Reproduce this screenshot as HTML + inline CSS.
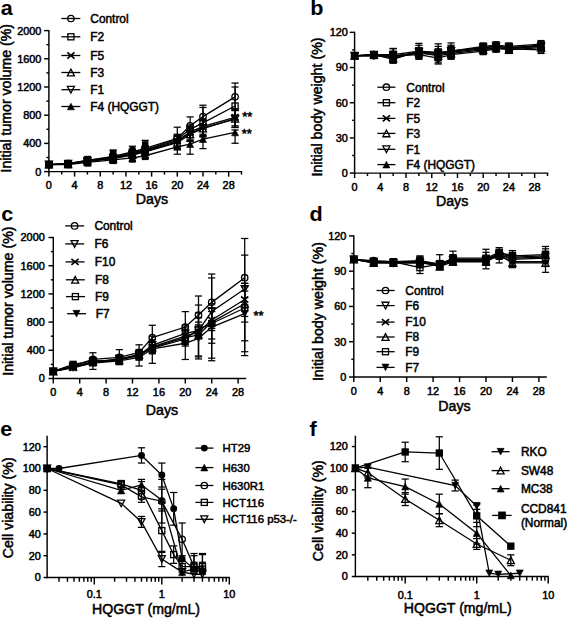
<!DOCTYPE html>
<html><head><meta charset="utf-8"><style>
html,body{margin:0;padding:0;background:#fff;}
body{width:567px;height:618px;overflow:hidden;}
svg{display:block;}
text{stroke:#000;stroke-width:0.5px;fill:#000;font-family:"Liberation Sans",sans-serif;font-weight:normal;}
text.l{stroke:none;font-weight:bold;}
</style></head><body>
<svg width="567" height="618" viewBox="0 0 567 618">
<rect width="567" height="618" fill="#fff"/>
<g stroke="#000" fill="#000">
<line x1="48.9" y1="30" x2="48.9" y2="172.3" stroke-width="1.45"/>
<line x1="48.2" y1="171.6" x2="242.1" y2="171.6" stroke-width="1.45"/>
<line x1="44.1" y1="171.6" x2="48.9" y2="171.6" stroke-width="1.45"/>
<text x="41.4" y="175.5" font-size="10.9" text-anchor="end">0</text>
<line x1="46.4" y1="157.5" x2="48.9" y2="157.5" stroke-width="1.45"/>
<line x1="44.1" y1="143.4" x2="48.9" y2="143.4" stroke-width="1.45"/>
<text x="41.4" y="147.3" font-size="10.9" text-anchor="end">400</text>
<line x1="46.4" y1="129.3" x2="48.9" y2="129.3" stroke-width="1.45"/>
<line x1="44.1" y1="115.2" x2="48.9" y2="115.2" stroke-width="1.45"/>
<text x="41.4" y="119.1" font-size="10.9" text-anchor="end">800</text>
<line x1="46.4" y1="101.1" x2="48.9" y2="101.1" stroke-width="1.45"/>
<line x1="44.1" y1="87" x2="48.9" y2="87" stroke-width="1.45"/>
<text x="41.4" y="90.9" font-size="10.9" text-anchor="end">1200</text>
<line x1="46.4" y1="72.9" x2="48.9" y2="72.9" stroke-width="1.45"/>
<line x1="44.1" y1="58.8" x2="48.9" y2="58.8" stroke-width="1.45"/>
<text x="41.4" y="62.7" font-size="10.9" text-anchor="end">1600</text>
<line x1="46.4" y1="44.7" x2="48.9" y2="44.7" stroke-width="1.45"/>
<line x1="44.1" y1="30.6" x2="48.9" y2="30.6" stroke-width="1.45"/>
<text x="41.4" y="34.5" font-size="10.9" text-anchor="end">2000</text>
<line x1="48.9" y1="171.6" x2="48.9" y2="176.6" stroke-width="1.45"/>
<text x="48.9" y="189.4" font-size="10.9" text-anchor="middle">0</text>
<line x1="61.74" y1="171.6" x2="61.74" y2="174.6" stroke-width="1.45"/>
<line x1="74.58" y1="171.6" x2="74.58" y2="176.6" stroke-width="1.45"/>
<text x="74.58" y="189.4" font-size="10.9" text-anchor="middle">4</text>
<line x1="87.42" y1="171.6" x2="87.42" y2="174.6" stroke-width="1.45"/>
<line x1="100.26" y1="171.6" x2="100.26" y2="176.6" stroke-width="1.45"/>
<text x="100.26" y="189.4" font-size="10.9" text-anchor="middle">8</text>
<line x1="113.1" y1="171.6" x2="113.1" y2="174.6" stroke-width="1.45"/>
<line x1="125.94" y1="171.6" x2="125.94" y2="176.6" stroke-width="1.45"/>
<text x="125.94" y="189.4" font-size="10.9" text-anchor="middle">12</text>
<line x1="138.78" y1="171.6" x2="138.78" y2="174.6" stroke-width="1.45"/>
<line x1="151.62" y1="171.6" x2="151.62" y2="176.6" stroke-width="1.45"/>
<text x="151.62" y="189.4" font-size="10.9" text-anchor="middle">16</text>
<line x1="164.46" y1="171.6" x2="164.46" y2="174.6" stroke-width="1.45"/>
<line x1="177.3" y1="171.6" x2="177.3" y2="176.6" stroke-width="1.45"/>
<text x="177.3" y="189.4" font-size="10.9" text-anchor="middle">20</text>
<line x1="190.14" y1="171.6" x2="190.14" y2="174.6" stroke-width="1.45"/>
<line x1="202.98" y1="171.6" x2="202.98" y2="176.6" stroke-width="1.45"/>
<text x="202.98" y="189.4" font-size="10.9" text-anchor="middle">24</text>
<line x1="215.82" y1="171.6" x2="215.82" y2="174.6" stroke-width="1.45"/>
<line x1="228.66" y1="171.6" x2="228.66" y2="176.6" stroke-width="1.45"/>
<text x="228.66" y="189.4" font-size="10.9" text-anchor="middle">28</text>
<line x1="241.5" y1="171.6" x2="241.5" y2="174.6" stroke-width="1.45"/>
<text x="152" y="203.9" font-size="14" text-anchor="middle" textLength="32.3" lengthAdjust="spacingAndGlyphs">Days</text>
<text transform="translate(10.6 98.2) rotate(-90)" x="0" y="0" font-size="14" text-anchor="middle" textLength="148.5" lengthAdjust="spacingAndGlyphs">Initial tumor volume (%)</text>
<text class="l" transform="translate(0.8 15.2) scale(1.1 1)" x="0" y="0" font-size="19.6">a</text>
<polyline points="48.9,164.55 68.16,164.55 87.42,162.44 113.1,159.97 132.36,157.85 145.2,155.74 177.3,146.93 190.14,144.1 202.98,139.17 235.08,132.47" fill="none" stroke-width="1.3"/>
<polyline points="48.9,164.55 68.16,163.84 87.42,161.03 113.1,158.2 132.36,154.33 145.2,151.16 177.3,141.99 190.14,133.53 202.98,127.89 235.08,119.08" fill="none" stroke-width="1.3"/>
<polyline points="48.9,164.55 68.16,164.2 87.42,161.38 113.1,158.56 132.36,155.03 145.2,151.86 177.3,142.69 190.14,134.24 202.98,128.59 235.08,118.72" fill="none" stroke-width="1.3"/>
<polyline points="48.9,164.55 68.16,163.84 87.42,161.03 113.1,157.85 132.36,153.97 145.2,150.45 177.3,140.58 190.14,132.12 202.98,126.48 235.08,117.31" fill="none" stroke-width="1.3"/>
<polyline points="48.9,164.55 68.16,163.84 87.42,160.32 113.1,157.15 132.36,152.56 145.2,149.75 177.3,139.17 190.14,129.3 202.98,122.95 235.08,106.03" fill="none" stroke-width="1.3"/>
<polyline points="48.9,164.55 68.16,163.49 87.42,160.32 113.1,156.44 132.36,151.86 145.2,148.34 177.3,138.47 190.14,125.78 202.98,116.61 235.08,96.87" fill="none" stroke-width="1.3"/>
<line x1="48.9" y1="163.49" x2="48.9" y2="165.61" stroke-width="1.25"/>
<line x1="45.3" y1="163.49" x2="52.5" y2="163.49" stroke-width="1.25"/>
<line x1="45.3" y1="165.61" x2="52.5" y2="165.61" stroke-width="1.25"/>
<line x1="68.16" y1="163.14" x2="68.16" y2="165.96" stroke-width="1.25"/>
<line x1="64.56" y1="163.14" x2="71.76" y2="163.14" stroke-width="1.25"/>
<line x1="64.56" y1="165.96" x2="71.76" y2="165.96" stroke-width="1.25"/>
<line x1="87.42" y1="160.67" x2="87.42" y2="164.2" stroke-width="1.25"/>
<line x1="83.82" y1="160.67" x2="91.02" y2="160.67" stroke-width="1.25"/>
<line x1="83.82" y1="164.2" x2="91.02" y2="164.2" stroke-width="1.25"/>
<line x1="113.1" y1="157.5" x2="113.1" y2="162.44" stroke-width="1.25"/>
<line x1="109.5" y1="157.5" x2="116.7" y2="157.5" stroke-width="1.25"/>
<line x1="109.5" y1="162.44" x2="116.7" y2="162.44" stroke-width="1.25"/>
<line x1="132.36" y1="153.97" x2="132.36" y2="161.66" stroke-width="1.25"/>
<line x1="128.76" y1="153.97" x2="135.96" y2="153.97" stroke-width="1.25"/>
<line x1="128.76" y1="161.66" x2="135.96" y2="161.66" stroke-width="1.25"/>
<line x1="145.2" y1="152.56" x2="145.2" y2="157.85" stroke-width="1.25"/>
<line x1="141.6" y1="152.56" x2="148.8" y2="152.56" stroke-width="1.25"/>
<line x1="141.6" y1="157.85" x2="148.8" y2="157.85" stroke-width="1.25"/>
<line x1="177.3" y1="141.99" x2="177.3" y2="154.19" stroke-width="1.25"/>
<line x1="173.7" y1="141.99" x2="180.9" y2="141.99" stroke-width="1.25"/>
<line x1="173.7" y1="154.19" x2="180.9" y2="154.19" stroke-width="1.25"/>
<line x1="190.14" y1="141.28" x2="190.14" y2="154.19" stroke-width="1.25"/>
<line x1="186.54" y1="141.28" x2="193.74" y2="141.28" stroke-width="1.25"/>
<line x1="186.54" y1="154.19" x2="193.74" y2="154.19" stroke-width="1.25"/>
<line x1="202.98" y1="137.06" x2="202.98" y2="148.62" stroke-width="1.25"/>
<line x1="199.38" y1="137.06" x2="206.58" y2="137.06" stroke-width="1.25"/>
<line x1="199.38" y1="148.62" x2="206.58" y2="148.62" stroke-width="1.25"/>
<line x1="235.08" y1="130" x2="235.08" y2="143.26" stroke-width="1.25"/>
<line x1="231.48" y1="130" x2="238.68" y2="130" stroke-width="1.25"/>
<line x1="231.48" y1="143.26" x2="238.68" y2="143.26" stroke-width="1.25"/>
<line x1="48.9" y1="163.49" x2="48.9" y2="165.61" stroke-width="1.25"/>
<line x1="45.3" y1="163.49" x2="52.5" y2="163.49" stroke-width="1.25"/>
<line x1="45.3" y1="165.61" x2="52.5" y2="165.61" stroke-width="1.25"/>
<line x1="68.16" y1="162.44" x2="68.16" y2="165.25" stroke-width="1.25"/>
<line x1="64.56" y1="162.44" x2="71.76" y2="162.44" stroke-width="1.25"/>
<line x1="64.56" y1="165.25" x2="71.76" y2="165.25" stroke-width="1.25"/>
<line x1="87.42" y1="159.26" x2="87.42" y2="162.79" stroke-width="1.25"/>
<line x1="83.82" y1="159.26" x2="91.02" y2="159.26" stroke-width="1.25"/>
<line x1="83.82" y1="162.79" x2="91.02" y2="162.79" stroke-width="1.25"/>
<line x1="113.1" y1="155.38" x2="113.1" y2="161.03" stroke-width="1.25"/>
<line x1="109.5" y1="155.38" x2="116.7" y2="155.38" stroke-width="1.25"/>
<line x1="109.5" y1="161.03" x2="116.7" y2="161.03" stroke-width="1.25"/>
<line x1="132.36" y1="151.51" x2="132.36" y2="157.15" stroke-width="1.25"/>
<line x1="128.76" y1="151.51" x2="135.96" y2="151.51" stroke-width="1.25"/>
<line x1="128.76" y1="157.15" x2="135.96" y2="157.15" stroke-width="1.25"/>
<line x1="145.2" y1="147.63" x2="145.2" y2="154.68" stroke-width="1.25"/>
<line x1="141.6" y1="147.63" x2="148.8" y2="147.63" stroke-width="1.25"/>
<line x1="141.6" y1="154.68" x2="148.8" y2="154.68" stroke-width="1.25"/>
<line x1="177.3" y1="135.64" x2="177.3" y2="148.34" stroke-width="1.25"/>
<line x1="173.7" y1="135.64" x2="180.9" y2="135.64" stroke-width="1.25"/>
<line x1="173.7" y1="148.34" x2="180.9" y2="148.34" stroke-width="1.25"/>
<line x1="190.14" y1="126.48" x2="190.14" y2="140.58" stroke-width="1.25"/>
<line x1="186.54" y1="126.48" x2="193.74" y2="126.48" stroke-width="1.25"/>
<line x1="186.54" y1="140.58" x2="193.74" y2="140.58" stroke-width="1.25"/>
<line x1="202.98" y1="120.13" x2="202.98" y2="135.64" stroke-width="1.25"/>
<line x1="199.38" y1="120.13" x2="206.58" y2="120.13" stroke-width="1.25"/>
<line x1="199.38" y1="135.64" x2="206.58" y2="135.64" stroke-width="1.25"/>
<line x1="235.08" y1="110.62" x2="235.08" y2="127.54" stroke-width="1.25"/>
<line x1="231.48" y1="110.62" x2="238.68" y2="110.62" stroke-width="1.25"/>
<line x1="231.48" y1="127.54" x2="238.68" y2="127.54" stroke-width="1.25"/>
<line x1="48.9" y1="163.49" x2="48.9" y2="165.61" stroke-width="1.25"/>
<line x1="45.3" y1="163.49" x2="52.5" y2="163.49" stroke-width="1.25"/>
<line x1="45.3" y1="165.61" x2="52.5" y2="165.61" stroke-width="1.25"/>
<line x1="68.16" y1="162.79" x2="68.16" y2="165.61" stroke-width="1.25"/>
<line x1="64.56" y1="162.79" x2="71.76" y2="162.79" stroke-width="1.25"/>
<line x1="64.56" y1="165.61" x2="71.76" y2="165.61" stroke-width="1.25"/>
<line x1="87.42" y1="159.62" x2="87.42" y2="163.14" stroke-width="1.25"/>
<line x1="83.82" y1="159.62" x2="91.02" y2="159.62" stroke-width="1.25"/>
<line x1="83.82" y1="163.14" x2="91.02" y2="163.14" stroke-width="1.25"/>
<line x1="113.1" y1="155.74" x2="113.1" y2="161.38" stroke-width="1.25"/>
<line x1="109.5" y1="155.74" x2="116.7" y2="155.74" stroke-width="1.25"/>
<line x1="109.5" y1="161.38" x2="116.7" y2="161.38" stroke-width="1.25"/>
<line x1="132.36" y1="152.21" x2="132.36" y2="157.85" stroke-width="1.25"/>
<line x1="128.76" y1="152.21" x2="135.96" y2="152.21" stroke-width="1.25"/>
<line x1="128.76" y1="157.85" x2="135.96" y2="157.85" stroke-width="1.25"/>
<line x1="145.2" y1="148.34" x2="145.2" y2="155.38" stroke-width="1.25"/>
<line x1="141.6" y1="148.34" x2="148.8" y2="148.34" stroke-width="1.25"/>
<line x1="141.6" y1="155.38" x2="148.8" y2="155.38" stroke-width="1.25"/>
<line x1="177.3" y1="136.35" x2="177.3" y2="149.04" stroke-width="1.25"/>
<line x1="173.7" y1="136.35" x2="180.9" y2="136.35" stroke-width="1.25"/>
<line x1="173.7" y1="149.04" x2="180.9" y2="149.04" stroke-width="1.25"/>
<line x1="190.14" y1="127.19" x2="190.14" y2="141.28" stroke-width="1.25"/>
<line x1="186.54" y1="127.19" x2="193.74" y2="127.19" stroke-width="1.25"/>
<line x1="186.54" y1="141.28" x2="193.74" y2="141.28" stroke-width="1.25"/>
<line x1="202.98" y1="120.84" x2="202.98" y2="136.35" stroke-width="1.25"/>
<line x1="199.38" y1="120.84" x2="206.58" y2="120.84" stroke-width="1.25"/>
<line x1="199.38" y1="136.35" x2="206.58" y2="136.35" stroke-width="1.25"/>
<line x1="235.08" y1="110.27" x2="235.08" y2="127.19" stroke-width="1.25"/>
<line x1="231.48" y1="110.27" x2="238.68" y2="110.27" stroke-width="1.25"/>
<line x1="231.48" y1="127.19" x2="238.68" y2="127.19" stroke-width="1.25"/>
<line x1="48.9" y1="163.49" x2="48.9" y2="165.61" stroke-width="1.25"/>
<line x1="45.3" y1="163.49" x2="52.5" y2="163.49" stroke-width="1.25"/>
<line x1="45.3" y1="165.61" x2="52.5" y2="165.61" stroke-width="1.25"/>
<line x1="68.16" y1="162.44" x2="68.16" y2="165.25" stroke-width="1.25"/>
<line x1="64.56" y1="162.44" x2="71.76" y2="162.44" stroke-width="1.25"/>
<line x1="64.56" y1="165.25" x2="71.76" y2="165.25" stroke-width="1.25"/>
<line x1="87.42" y1="159.26" x2="87.42" y2="162.79" stroke-width="1.25"/>
<line x1="83.82" y1="159.26" x2="91.02" y2="159.26" stroke-width="1.25"/>
<line x1="83.82" y1="162.79" x2="91.02" y2="162.79" stroke-width="1.25"/>
<line x1="113.1" y1="155.03" x2="113.1" y2="160.67" stroke-width="1.25"/>
<line x1="109.5" y1="155.03" x2="116.7" y2="155.03" stroke-width="1.25"/>
<line x1="109.5" y1="160.67" x2="116.7" y2="160.67" stroke-width="1.25"/>
<line x1="132.36" y1="151.16" x2="132.36" y2="156.79" stroke-width="1.25"/>
<line x1="128.76" y1="151.16" x2="135.96" y2="151.16" stroke-width="1.25"/>
<line x1="128.76" y1="156.79" x2="135.96" y2="156.79" stroke-width="1.25"/>
<line x1="145.2" y1="146.93" x2="145.2" y2="153.97" stroke-width="1.25"/>
<line x1="141.6" y1="146.93" x2="148.8" y2="146.93" stroke-width="1.25"/>
<line x1="141.6" y1="153.97" x2="148.8" y2="153.97" stroke-width="1.25"/>
<line x1="177.3" y1="134.24" x2="177.3" y2="146.93" stroke-width="1.25"/>
<line x1="173.7" y1="134.24" x2="180.9" y2="134.24" stroke-width="1.25"/>
<line x1="173.7" y1="146.93" x2="180.9" y2="146.93" stroke-width="1.25"/>
<line x1="190.14" y1="125.07" x2="190.14" y2="139.17" stroke-width="1.25"/>
<line x1="186.54" y1="125.07" x2="193.74" y2="125.07" stroke-width="1.25"/>
<line x1="186.54" y1="139.17" x2="193.74" y2="139.17" stroke-width="1.25"/>
<line x1="202.98" y1="118.72" x2="202.98" y2="134.24" stroke-width="1.25"/>
<line x1="199.38" y1="118.72" x2="206.58" y2="118.72" stroke-width="1.25"/>
<line x1="199.38" y1="134.24" x2="206.58" y2="134.24" stroke-width="1.25"/>
<line x1="235.08" y1="108.85" x2="235.08" y2="125.78" stroke-width="1.25"/>
<line x1="231.48" y1="108.85" x2="238.68" y2="108.85" stroke-width="1.25"/>
<line x1="231.48" y1="125.78" x2="238.68" y2="125.78" stroke-width="1.25"/>
<line x1="48.9" y1="163.49" x2="48.9" y2="165.61" stroke-width="1.25"/>
<line x1="45.3" y1="163.49" x2="52.5" y2="163.49" stroke-width="1.25"/>
<line x1="45.3" y1="165.61" x2="52.5" y2="165.61" stroke-width="1.25"/>
<line x1="68.16" y1="162.44" x2="68.16" y2="165.25" stroke-width="1.25"/>
<line x1="64.56" y1="162.44" x2="71.76" y2="162.44" stroke-width="1.25"/>
<line x1="64.56" y1="165.25" x2="71.76" y2="165.25" stroke-width="1.25"/>
<line x1="87.42" y1="158.2" x2="87.42" y2="162.44" stroke-width="1.25"/>
<line x1="83.82" y1="158.2" x2="91.02" y2="158.2" stroke-width="1.25"/>
<line x1="83.82" y1="162.44" x2="91.02" y2="162.44" stroke-width="1.25"/>
<line x1="113.1" y1="154.33" x2="113.1" y2="159.97" stroke-width="1.25"/>
<line x1="109.5" y1="154.33" x2="116.7" y2="154.33" stroke-width="1.25"/>
<line x1="109.5" y1="159.97" x2="116.7" y2="159.97" stroke-width="1.25"/>
<line x1="132.36" y1="149.04" x2="132.36" y2="156.09" stroke-width="1.25"/>
<line x1="128.76" y1="149.04" x2="135.96" y2="149.04" stroke-width="1.25"/>
<line x1="128.76" y1="156.09" x2="135.96" y2="156.09" stroke-width="1.25"/>
<line x1="145.2" y1="145.51" x2="145.2" y2="153.97" stroke-width="1.25"/>
<line x1="141.6" y1="145.51" x2="148.8" y2="145.51" stroke-width="1.25"/>
<line x1="141.6" y1="153.97" x2="148.8" y2="153.97" stroke-width="1.25"/>
<line x1="177.3" y1="134.94" x2="177.3" y2="143.4" stroke-width="1.25"/>
<line x1="173.7" y1="134.94" x2="180.9" y2="134.94" stroke-width="1.25"/>
<line x1="173.7" y1="143.4" x2="180.9" y2="143.4" stroke-width="1.25"/>
<line x1="190.14" y1="126.48" x2="190.14" y2="132.12" stroke-width="1.25"/>
<line x1="186.54" y1="126.48" x2="193.74" y2="126.48" stroke-width="1.25"/>
<line x1="186.54" y1="132.12" x2="193.74" y2="132.12" stroke-width="1.25"/>
<line x1="202.98" y1="107.45" x2="202.98" y2="125.78" stroke-width="1.25"/>
<line x1="199.38" y1="107.45" x2="206.58" y2="107.45" stroke-width="1.25"/>
<line x1="199.38" y1="125.78" x2="206.58" y2="125.78" stroke-width="1.25"/>
<line x1="235.08" y1="87" x2="235.08" y2="110.27" stroke-width="1.25"/>
<line x1="231.48" y1="87" x2="238.68" y2="87" stroke-width="1.25"/>
<line x1="231.48" y1="110.27" x2="238.68" y2="110.27" stroke-width="1.25"/>
<line x1="48.9" y1="163.49" x2="48.9" y2="165.61" stroke-width="1.25"/>
<line x1="45.3" y1="163.49" x2="52.5" y2="163.49" stroke-width="1.25"/>
<line x1="45.3" y1="165.61" x2="52.5" y2="165.61" stroke-width="1.25"/>
<line x1="68.16" y1="162.08" x2="68.16" y2="164.9" stroke-width="1.25"/>
<line x1="64.56" y1="162.08" x2="71.76" y2="162.08" stroke-width="1.25"/>
<line x1="64.56" y1="164.9" x2="71.76" y2="164.9" stroke-width="1.25"/>
<line x1="87.42" y1="158.2" x2="87.42" y2="162.44" stroke-width="1.25"/>
<line x1="83.82" y1="158.2" x2="91.02" y2="158.2" stroke-width="1.25"/>
<line x1="83.82" y1="162.44" x2="91.02" y2="162.44" stroke-width="1.25"/>
<line x1="113.1" y1="150.03" x2="113.1" y2="160.32" stroke-width="1.25"/>
<line x1="109.5" y1="150.03" x2="116.7" y2="150.03" stroke-width="1.25"/>
<line x1="109.5" y1="160.32" x2="116.7" y2="160.32" stroke-width="1.25"/>
<line x1="132.36" y1="146.22" x2="132.36" y2="156.09" stroke-width="1.25"/>
<line x1="128.76" y1="146.22" x2="135.96" y2="146.22" stroke-width="1.25"/>
<line x1="128.76" y1="156.09" x2="135.96" y2="156.09" stroke-width="1.25"/>
<line x1="145.2" y1="140.37" x2="145.2" y2="153.97" stroke-width="1.25"/>
<line x1="141.6" y1="140.37" x2="148.8" y2="140.37" stroke-width="1.25"/>
<line x1="141.6" y1="153.97" x2="148.8" y2="153.97" stroke-width="1.25"/>
<line x1="177.3" y1="127.19" x2="177.3" y2="148.34" stroke-width="1.25"/>
<line x1="173.7" y1="127.19" x2="180.9" y2="127.19" stroke-width="1.25"/>
<line x1="173.7" y1="148.34" x2="180.9" y2="148.34" stroke-width="1.25"/>
<line x1="190.14" y1="116.89" x2="190.14" y2="134.94" stroke-width="1.25"/>
<line x1="186.54" y1="116.89" x2="193.74" y2="116.89" stroke-width="1.25"/>
<line x1="186.54" y1="134.94" x2="193.74" y2="134.94" stroke-width="1.25"/>
<line x1="202.98" y1="105.19" x2="202.98" y2="127.89" stroke-width="1.25"/>
<line x1="199.38" y1="105.19" x2="206.58" y2="105.19" stroke-width="1.25"/>
<line x1="199.38" y1="127.89" x2="206.58" y2="127.89" stroke-width="1.25"/>
<line x1="235.08" y1="83.05" x2="235.08" y2="115.2" stroke-width="1.25"/>
<line x1="231.48" y1="83.05" x2="238.68" y2="83.05" stroke-width="1.25"/>
<line x1="231.48" y1="115.2" x2="238.68" y2="115.2" stroke-width="1.25"/>
<polygon points="48.9,161.21 52.42,167.89 45.38,167.89" fill="#000" stroke-width="0.6"/>
<polygon points="68.16,161.21 71.68,167.89 64.64,167.89" fill="#000" stroke-width="0.6"/>
<polygon points="87.42,159.09 90.94,165.78 83.9,165.78" fill="#000" stroke-width="0.6"/>
<polygon points="113.1,156.62 116.62,163.31 109.58,163.31" fill="#000" stroke-width="0.6"/>
<polygon points="132.36,154.51 135.88,161.2 128.84,161.2" fill="#000" stroke-width="0.6"/>
<polygon points="145.2,152.39 148.72,159.08 141.68,159.08" fill="#000" stroke-width="0.6"/>
<polygon points="177.3,143.58 180.82,150.27 173.78,150.27" fill="#000" stroke-width="0.6"/>
<polygon points="190.14,140.76 193.66,147.45 186.62,147.45" fill="#000" stroke-width="0.6"/>
<polygon points="202.98,135.83 206.5,142.51 199.46,142.51" fill="#000" stroke-width="0.6"/>
<polygon points="235.08,129.13 238.6,135.82 231.56,135.82" fill="#000" stroke-width="0.6"/>
<polygon points="48.9,167.89 52.42,161.21 45.38,161.21" fill="none" stroke-width="1.3"/>
<polygon points="68.16,167.19 71.68,160.5 64.64,160.5" fill="none" stroke-width="1.3"/>
<polygon points="87.42,164.37 90.94,157.68 83.9,157.68" fill="none" stroke-width="1.3"/>
<polygon points="113.1,161.55 116.62,154.86 109.58,154.86" fill="none" stroke-width="1.3"/>
<polygon points="132.36,157.67 135.88,150.98 128.84,150.98" fill="none" stroke-width="1.3"/>
<polygon points="145.2,154.5 148.72,147.81 141.68,147.81" fill="none" stroke-width="1.3"/>
<polygon points="177.3,145.33 180.82,138.65 173.78,138.65" fill="none" stroke-width="1.3"/>
<polygon points="190.14,136.87 193.66,130.19 186.62,130.19" fill="none" stroke-width="1.3"/>
<polygon points="202.98,131.23 206.5,124.55 199.46,124.55" fill="none" stroke-width="1.3"/>
<polygon points="235.08,122.42 238.6,115.73 231.56,115.73" fill="none" stroke-width="1.3"/>
<polygon points="48.9,161.21 52.42,167.89 45.38,167.89" fill="none" stroke-width="1.3"/>
<polygon points="68.16,160.85 71.68,167.54 64.64,167.54" fill="none" stroke-width="1.3"/>
<polygon points="87.42,158.03 90.94,164.72 83.9,164.72" fill="none" stroke-width="1.3"/>
<polygon points="113.1,155.21 116.62,161.9 109.58,161.9" fill="none" stroke-width="1.3"/>
<polygon points="132.36,151.69 135.88,158.38 128.84,158.38" fill="none" stroke-width="1.3"/>
<polygon points="145.2,148.52 148.72,155.2 141.68,155.2" fill="none" stroke-width="1.3"/>
<polygon points="177.3,139.35 180.82,146.04 173.78,146.04" fill="none" stroke-width="1.3"/>
<polygon points="190.14,130.89 193.66,137.58 186.62,137.58" fill="none" stroke-width="1.3"/>
<polygon points="202.98,125.25 206.5,131.94 199.46,131.94" fill="none" stroke-width="1.3"/>
<polygon points="235.08,115.38 238.6,122.07 231.56,122.07" fill="none" stroke-width="1.3"/>
<path d="M45.32 161.5L52.48 167.6M45.32 167.6L52.48 161.5" stroke-width="1.7"/>
<path d="M64.58 160.8L71.74 166.89M64.58 166.89L71.74 160.8" stroke-width="1.7"/>
<path d="M83.84 157.98L91 164.07M83.84 164.07L91 157.98" stroke-width="1.7"/>
<path d="M109.52 154.81L116.68 160.9M109.52 160.9L116.68 154.81" stroke-width="1.7"/>
<path d="M128.78 150.93L135.94 157.02M128.78 157.02L135.94 150.93" stroke-width="1.7"/>
<path d="M141.62 147.4L148.78 153.5M141.62 153.5L148.78 147.4" stroke-width="1.7"/>
<path d="M173.72 137.53L180.88 143.63M173.72 143.63L180.88 137.53" stroke-width="1.7"/>
<path d="M186.56 129.07L193.72 135.17M186.56 135.17L193.72 129.07" stroke-width="1.7"/>
<path d="M199.4 123.43L206.56 129.53M199.4 129.53L206.56 123.43" stroke-width="1.7"/>
<path d="M231.5 114.27L238.66 120.36M231.5 120.36L238.66 114.27" stroke-width="1.7"/>
<rect x="45.86" y="161.51" width="6.08" height="6.08" fill="none" stroke-width="1.3"/>
<rect x="65.12" y="160.81" width="6.08" height="6.08" fill="none" stroke-width="1.3"/>
<rect x="84.38" y="157.28" width="6.08" height="6.08" fill="none" stroke-width="1.3"/>
<rect x="110.06" y="154.11" width="6.08" height="6.08" fill="none" stroke-width="1.3"/>
<rect x="129.32" y="149.53" width="6.08" height="6.08" fill="none" stroke-width="1.3"/>
<rect x="142.16" y="146.71" width="6.08" height="6.08" fill="none" stroke-width="1.3"/>
<rect x="174.26" y="136.13" width="6.08" height="6.08" fill="none" stroke-width="1.3"/>
<rect x="187.1" y="126.26" width="6.08" height="6.08" fill="none" stroke-width="1.3"/>
<rect x="199.94" y="119.91" width="6.08" height="6.08" fill="none" stroke-width="1.3"/>
<rect x="232.04" y="102.99" width="6.08" height="6.08" fill="none" stroke-width="1.3"/>
<circle cx="48.9" cy="164.55" r="3.2" fill="none" stroke-width="1.3"/>
<circle cx="68.16" cy="163.49" r="3.2" fill="none" stroke-width="1.3"/>
<circle cx="87.42" cy="160.32" r="3.2" fill="none" stroke-width="1.3"/>
<circle cx="113.1" cy="156.44" r="3.2" fill="none" stroke-width="1.3"/>
<circle cx="132.36" cy="151.86" r="3.2" fill="none" stroke-width="1.3"/>
<circle cx="145.2" cy="148.34" r="3.2" fill="none" stroke-width="1.3"/>
<circle cx="177.3" cy="138.47" r="3.2" fill="none" stroke-width="1.3"/>
<circle cx="190.14" cy="125.78" r="3.2" fill="none" stroke-width="1.3"/>
<circle cx="202.98" cy="116.61" r="3.2" fill="none" stroke-width="1.3"/>
<circle cx="235.08" cy="96.87" r="3.2" fill="none" stroke-width="1.3"/>
<rect x="45.4" y="161.2" width="7.2" height="6.9" stroke="none"/>
<rect x="65.3" y="159.9" width="6.6" height="8.3" stroke="none"/>
<rect x="84.3" y="155.8" width="6.9" height="10.8" stroke="none"/>
<rect x="109.8" y="149.8" width="6.7" height="14.3" stroke="none"/>
<rect x="129.7" y="146.5" width="5.7" height="16.1" stroke="none"/>
<rect x="142" y="141.2" width="6.4" height="18.9" stroke="none"/>
<line x1="61.4" y1="18.5" x2="80.3" y2="18.5" stroke-width="1.3"/>
<circle cx="70.9" cy="18.5" r="3.2" fill="none" stroke-width="1.3"/>
<text x="90.3" y="22.86" font-size="11.9">Control</text>
<line x1="61.4" y1="36.8" x2="80.3" y2="36.8" stroke-width="1.3"/>
<rect x="67.86" y="33.76" width="6.08" height="6.08" fill="none" stroke-width="1.3"/>
<text x="90.3" y="41.16" font-size="11.9">F2</text>
<line x1="61.4" y1="55.5" x2="80.3" y2="55.5" stroke-width="1.3"/>
<path d="M67.32 52.45L74.48 58.55M67.32 58.55L74.48 52.45" stroke-width="1.7"/>
<text x="90.3" y="59.86" font-size="11.9">F5</text>
<line x1="61.4" y1="72.5" x2="80.3" y2="72.5" stroke-width="1.3"/>
<polygon points="70.9,69.16 74.42,75.84 67.38,75.84" fill="none" stroke-width="1.3"/>
<text x="90.3" y="76.86" font-size="11.9">F3</text>
<line x1="61.4" y1="89.7" x2="80.3" y2="89.7" stroke-width="1.3"/>
<polygon points="70.9,93.04 74.42,86.36 67.38,86.36" fill="none" stroke-width="1.3"/>
<text x="90.3" y="94.06" font-size="11.9">F1</text>
<line x1="61.4" y1="106.5" x2="80.3" y2="106.5" stroke-width="1.3"/>
<polygon points="70.9,103.16 74.42,109.84 67.38,109.84" fill="#000" stroke-width="0.6"/>
<text x="90.3" y="110.86" font-size="11.9">F4 (HQGGT)</text>
<line x1="354.6" y1="31.74" x2="354.6" y2="173.8" stroke-width="1.45"/>
<line x1="353.9" y1="173.1" x2="548.2" y2="173.1" stroke-width="1.45"/>
<line x1="349.8" y1="173.1" x2="354.6" y2="173.1" stroke-width="1.45"/>
<text x="347.8" y="177" font-size="10.9" text-anchor="end">0</text>
<line x1="352.1" y1="155.5" x2="354.6" y2="155.5" stroke-width="1.45"/>
<line x1="349.8" y1="137.91" x2="354.6" y2="137.91" stroke-width="1.45"/>
<text x="347.8" y="141.81" font-size="10.9" text-anchor="end">30</text>
<line x1="352.1" y1="120.31" x2="354.6" y2="120.31" stroke-width="1.45"/>
<line x1="349.8" y1="102.72" x2="354.6" y2="102.72" stroke-width="1.45"/>
<text x="347.8" y="106.62" font-size="10.9" text-anchor="end">60</text>
<line x1="352.1" y1="85.12" x2="354.6" y2="85.12" stroke-width="1.45"/>
<line x1="349.8" y1="67.53" x2="354.6" y2="67.53" stroke-width="1.45"/>
<text x="347.8" y="71.43" font-size="10.9" text-anchor="end">90</text>
<line x1="352.1" y1="49.93" x2="354.6" y2="49.93" stroke-width="1.45"/>
<line x1="349.8" y1="32.34" x2="354.6" y2="32.34" stroke-width="1.45"/>
<text x="347.8" y="36.24" font-size="10.9" text-anchor="end">120</text>
<line x1="354.6" y1="173.1" x2="354.6" y2="178.1" stroke-width="1.45"/>
<text x="354.6" y="191.2" font-size="10.9" text-anchor="middle">0</text>
<line x1="367.46" y1="173.1" x2="367.46" y2="176.1" stroke-width="1.45"/>
<line x1="380.32" y1="173.1" x2="380.32" y2="178.1" stroke-width="1.45"/>
<text x="380.32" y="191.2" font-size="10.9" text-anchor="middle">4</text>
<line x1="393.18" y1="173.1" x2="393.18" y2="176.1" stroke-width="1.45"/>
<line x1="406.04" y1="173.1" x2="406.04" y2="178.1" stroke-width="1.45"/>
<text x="406.04" y="191.2" font-size="10.9" text-anchor="middle">8</text>
<line x1="418.9" y1="173.1" x2="418.9" y2="176.1" stroke-width="1.45"/>
<line x1="431.76" y1="173.1" x2="431.76" y2="178.1" stroke-width="1.45"/>
<text x="431.76" y="191.2" font-size="10.9" text-anchor="middle">12</text>
<line x1="444.62" y1="173.1" x2="444.62" y2="176.1" stroke-width="1.45"/>
<line x1="457.48" y1="173.1" x2="457.48" y2="178.1" stroke-width="1.45"/>
<text x="457.48" y="191.2" font-size="10.9" text-anchor="middle">16</text>
<line x1="470.34" y1="173.1" x2="470.34" y2="176.1" stroke-width="1.45"/>
<line x1="483.2" y1="173.1" x2="483.2" y2="178.1" stroke-width="1.45"/>
<text x="483.2" y="191.2" font-size="10.9" text-anchor="middle">20</text>
<line x1="496.06" y1="173.1" x2="496.06" y2="176.1" stroke-width="1.45"/>
<line x1="508.92" y1="173.1" x2="508.92" y2="178.1" stroke-width="1.45"/>
<text x="508.92" y="191.2" font-size="10.9" text-anchor="middle">24</text>
<line x1="521.78" y1="173.1" x2="521.78" y2="176.1" stroke-width="1.45"/>
<line x1="534.64" y1="173.1" x2="534.64" y2="178.1" stroke-width="1.45"/>
<text x="534.64" y="191.2" font-size="10.9" text-anchor="middle">28</text>
<line x1="547.5" y1="173.1" x2="547.5" y2="176.1" stroke-width="1.45"/>
<text x="452.1" y="205.5" font-size="14" text-anchor="middle" textLength="32.3" lengthAdjust="spacingAndGlyphs">Days</text>
<text transform="translate(322.2 107) rotate(-90)" x="0" y="0" font-size="14" text-anchor="middle" textLength="139" lengthAdjust="spacingAndGlyphs">Initial body weight (%)</text>
<text class="l" transform="translate(310.2 15.2) scale(1.1 1)" x="0" y="0" font-size="19.6">b</text>
<polyline points="354.6,55.8 373.89,54.63 393.18,59.32 418.9,51.11 438.19,52.28 451.05,51.11 483.2,46.42 496.06,45.24 508.92,46.42 541.07,44.07" fill="none" stroke-width="1.3"/>
<polyline points="354.6,55.8 373.89,54.63 393.18,55.8 418.9,52.28 438.19,53.45 451.05,51.11 483.2,47.59 496.06,46.42 508.92,47.59 541.07,46.42" fill="none" stroke-width="1.3"/>
<polyline points="354.6,55.8 373.89,54.63 393.18,58.15 418.9,52.28 438.19,55.8 451.05,53.45 483.2,49.93 496.06,47.59 508.92,49.93 541.07,47.59" fill="none" stroke-width="1.3"/>
<polyline points="354.6,55.8 373.89,55.8 393.18,56.97 418.9,53.45 438.19,54.63 451.05,52.28 483.2,48.76 496.06,47.59 508.92,48.76 541.07,46.42" fill="none" stroke-width="1.3"/>
<polyline points="354.6,55.8 373.89,54.63 393.18,54.63 418.9,51.11 438.19,53.45 451.05,51.11 483.2,47.59 496.06,46.42 508.92,47.59 541.07,45.24" fill="none" stroke-width="1.3"/>
<polyline points="354.6,55.8 373.89,55.8 393.18,55.8 418.9,54.63 438.19,58.15 451.05,54.63 483.2,51.11 496.06,48.76 508.92,48.76 541.07,49.93" fill="none" stroke-width="1.3"/>
<line x1="354.6" y1="53.45" x2="354.6" y2="58.15" stroke-width="1.25"/>
<line x1="351" y1="53.45" x2="358.2" y2="53.45" stroke-width="1.25"/>
<line x1="351" y1="58.15" x2="358.2" y2="58.15" stroke-width="1.25"/>
<line x1="373.89" y1="52.28" x2="373.89" y2="56.97" stroke-width="1.25"/>
<line x1="370.29" y1="52.28" x2="377.49" y2="52.28" stroke-width="1.25"/>
<line x1="370.29" y1="56.97" x2="377.49" y2="56.97" stroke-width="1.25"/>
<line x1="393.18" y1="48.41" x2="393.18" y2="63.19" stroke-width="1.25"/>
<line x1="389.58" y1="48.41" x2="396.78" y2="48.41" stroke-width="1.25"/>
<line x1="389.58" y1="63.19" x2="396.78" y2="63.19" stroke-width="1.25"/>
<line x1="418.9" y1="43.37" x2="418.9" y2="58.15" stroke-width="1.25"/>
<line x1="415.3" y1="43.37" x2="422.5" y2="43.37" stroke-width="1.25"/>
<line x1="415.3" y1="58.15" x2="422.5" y2="58.15" stroke-width="1.25"/>
<line x1="438.19" y1="43.84" x2="438.19" y2="64.01" stroke-width="1.25"/>
<line x1="434.59" y1="43.84" x2="441.79" y2="43.84" stroke-width="1.25"/>
<line x1="434.59" y1="64.01" x2="441.79" y2="64.01" stroke-width="1.25"/>
<line x1="451.05" y1="42.9" x2="451.05" y2="58.15" stroke-width="1.25"/>
<line x1="447.45" y1="42.9" x2="454.65" y2="42.9" stroke-width="1.25"/>
<line x1="447.45" y1="58.15" x2="454.65" y2="58.15" stroke-width="1.25"/>
<line x1="483.2" y1="42.9" x2="483.2" y2="49.93" stroke-width="1.25"/>
<line x1="479.6" y1="42.9" x2="486.8" y2="42.9" stroke-width="1.25"/>
<line x1="479.6" y1="49.93" x2="486.8" y2="49.93" stroke-width="1.25"/>
<line x1="496.06" y1="41.72" x2="496.06" y2="48.76" stroke-width="1.25"/>
<line x1="492.46" y1="41.72" x2="499.66" y2="41.72" stroke-width="1.25"/>
<line x1="492.46" y1="48.76" x2="499.66" y2="48.76" stroke-width="1.25"/>
<line x1="508.92" y1="42.9" x2="508.92" y2="49.93" stroke-width="1.25"/>
<line x1="505.32" y1="42.9" x2="512.52" y2="42.9" stroke-width="1.25"/>
<line x1="505.32" y1="49.93" x2="512.52" y2="49.93" stroke-width="1.25"/>
<line x1="541.07" y1="40.55" x2="541.07" y2="47.59" stroke-width="1.25"/>
<line x1="537.47" y1="40.55" x2="544.67" y2="40.55" stroke-width="1.25"/>
<line x1="537.47" y1="47.59" x2="544.67" y2="47.59" stroke-width="1.25"/>
<line x1="354.6" y1="53.45" x2="354.6" y2="58.15" stroke-width="1.25"/>
<line x1="351" y1="53.45" x2="358.2" y2="53.45" stroke-width="1.25"/>
<line x1="351" y1="58.15" x2="358.2" y2="58.15" stroke-width="1.25"/>
<line x1="373.89" y1="52.28" x2="373.89" y2="56.97" stroke-width="1.25"/>
<line x1="370.29" y1="52.28" x2="377.49" y2="52.28" stroke-width="1.25"/>
<line x1="370.29" y1="56.97" x2="377.49" y2="56.97" stroke-width="1.25"/>
<line x1="393.18" y1="51.11" x2="393.18" y2="60.49" stroke-width="1.25"/>
<line x1="389.58" y1="51.11" x2="396.78" y2="51.11" stroke-width="1.25"/>
<line x1="389.58" y1="60.49" x2="396.78" y2="60.49" stroke-width="1.25"/>
<line x1="418.9" y1="47.59" x2="418.9" y2="56.97" stroke-width="1.25"/>
<line x1="415.3" y1="47.59" x2="422.5" y2="47.59" stroke-width="1.25"/>
<line x1="415.3" y1="56.97" x2="422.5" y2="56.97" stroke-width="1.25"/>
<line x1="438.19" y1="48.76" x2="438.19" y2="58.15" stroke-width="1.25"/>
<line x1="434.59" y1="48.76" x2="441.79" y2="48.76" stroke-width="1.25"/>
<line x1="434.59" y1="58.15" x2="441.79" y2="58.15" stroke-width="1.25"/>
<line x1="451.05" y1="46.42" x2="451.05" y2="55.8" stroke-width="1.25"/>
<line x1="447.45" y1="46.42" x2="454.65" y2="46.42" stroke-width="1.25"/>
<line x1="447.45" y1="55.8" x2="454.65" y2="55.8" stroke-width="1.25"/>
<line x1="483.2" y1="44.07" x2="483.2" y2="51.11" stroke-width="1.25"/>
<line x1="479.6" y1="44.07" x2="486.8" y2="44.07" stroke-width="1.25"/>
<line x1="479.6" y1="51.11" x2="486.8" y2="51.11" stroke-width="1.25"/>
<line x1="496.06" y1="42.9" x2="496.06" y2="49.93" stroke-width="1.25"/>
<line x1="492.46" y1="42.9" x2="499.66" y2="42.9" stroke-width="1.25"/>
<line x1="492.46" y1="49.93" x2="499.66" y2="49.93" stroke-width="1.25"/>
<line x1="508.92" y1="44.07" x2="508.92" y2="51.11" stroke-width="1.25"/>
<line x1="505.32" y1="44.07" x2="512.52" y2="44.07" stroke-width="1.25"/>
<line x1="505.32" y1="51.11" x2="512.52" y2="51.11" stroke-width="1.25"/>
<line x1="541.07" y1="42.9" x2="541.07" y2="49.93" stroke-width="1.25"/>
<line x1="537.47" y1="42.9" x2="544.67" y2="42.9" stroke-width="1.25"/>
<line x1="537.47" y1="49.93" x2="544.67" y2="49.93" stroke-width="1.25"/>
<line x1="354.6" y1="53.45" x2="354.6" y2="58.15" stroke-width="1.25"/>
<line x1="351" y1="53.45" x2="358.2" y2="53.45" stroke-width="1.25"/>
<line x1="351" y1="58.15" x2="358.2" y2="58.15" stroke-width="1.25"/>
<line x1="373.89" y1="52.28" x2="373.89" y2="56.97" stroke-width="1.25"/>
<line x1="370.29" y1="52.28" x2="377.49" y2="52.28" stroke-width="1.25"/>
<line x1="370.29" y1="56.97" x2="377.49" y2="56.97" stroke-width="1.25"/>
<line x1="393.18" y1="53.45" x2="393.18" y2="62.84" stroke-width="1.25"/>
<line x1="389.58" y1="53.45" x2="396.78" y2="53.45" stroke-width="1.25"/>
<line x1="389.58" y1="62.84" x2="396.78" y2="62.84" stroke-width="1.25"/>
<line x1="418.9" y1="47.59" x2="418.9" y2="56.97" stroke-width="1.25"/>
<line x1="415.3" y1="47.59" x2="422.5" y2="47.59" stroke-width="1.25"/>
<line x1="415.3" y1="56.97" x2="422.5" y2="56.97" stroke-width="1.25"/>
<line x1="438.19" y1="51.11" x2="438.19" y2="60.49" stroke-width="1.25"/>
<line x1="434.59" y1="51.11" x2="441.79" y2="51.11" stroke-width="1.25"/>
<line x1="434.59" y1="60.49" x2="441.79" y2="60.49" stroke-width="1.25"/>
<line x1="451.05" y1="48.76" x2="451.05" y2="58.15" stroke-width="1.25"/>
<line x1="447.45" y1="48.76" x2="454.65" y2="48.76" stroke-width="1.25"/>
<line x1="447.45" y1="58.15" x2="454.65" y2="58.15" stroke-width="1.25"/>
<line x1="483.2" y1="46.42" x2="483.2" y2="53.45" stroke-width="1.25"/>
<line x1="479.6" y1="46.42" x2="486.8" y2="46.42" stroke-width="1.25"/>
<line x1="479.6" y1="53.45" x2="486.8" y2="53.45" stroke-width="1.25"/>
<line x1="496.06" y1="44.07" x2="496.06" y2="51.11" stroke-width="1.25"/>
<line x1="492.46" y1="44.07" x2="499.66" y2="44.07" stroke-width="1.25"/>
<line x1="492.46" y1="51.11" x2="499.66" y2="51.11" stroke-width="1.25"/>
<line x1="508.92" y1="46.42" x2="508.92" y2="53.45" stroke-width="1.25"/>
<line x1="505.32" y1="46.42" x2="512.52" y2="46.42" stroke-width="1.25"/>
<line x1="505.32" y1="53.45" x2="512.52" y2="53.45" stroke-width="1.25"/>
<line x1="541.07" y1="44.07" x2="541.07" y2="51.11" stroke-width="1.25"/>
<line x1="537.47" y1="44.07" x2="544.67" y2="44.07" stroke-width="1.25"/>
<line x1="537.47" y1="51.11" x2="544.67" y2="51.11" stroke-width="1.25"/>
<line x1="354.6" y1="53.45" x2="354.6" y2="58.15" stroke-width="1.25"/>
<line x1="351" y1="53.45" x2="358.2" y2="53.45" stroke-width="1.25"/>
<line x1="351" y1="58.15" x2="358.2" y2="58.15" stroke-width="1.25"/>
<line x1="373.89" y1="53.45" x2="373.89" y2="58.15" stroke-width="1.25"/>
<line x1="370.29" y1="53.45" x2="377.49" y2="53.45" stroke-width="1.25"/>
<line x1="370.29" y1="58.15" x2="377.49" y2="58.15" stroke-width="1.25"/>
<line x1="393.18" y1="52.28" x2="393.18" y2="61.66" stroke-width="1.25"/>
<line x1="389.58" y1="52.28" x2="396.78" y2="52.28" stroke-width="1.25"/>
<line x1="389.58" y1="61.66" x2="396.78" y2="61.66" stroke-width="1.25"/>
<line x1="418.9" y1="48.76" x2="418.9" y2="58.15" stroke-width="1.25"/>
<line x1="415.3" y1="48.76" x2="422.5" y2="48.76" stroke-width="1.25"/>
<line x1="415.3" y1="58.15" x2="422.5" y2="58.15" stroke-width="1.25"/>
<line x1="438.19" y1="49.93" x2="438.19" y2="59.32" stroke-width="1.25"/>
<line x1="434.59" y1="49.93" x2="441.79" y2="49.93" stroke-width="1.25"/>
<line x1="434.59" y1="59.32" x2="441.79" y2="59.32" stroke-width="1.25"/>
<line x1="451.05" y1="47.59" x2="451.05" y2="56.97" stroke-width="1.25"/>
<line x1="447.45" y1="47.59" x2="454.65" y2="47.59" stroke-width="1.25"/>
<line x1="447.45" y1="56.97" x2="454.65" y2="56.97" stroke-width="1.25"/>
<line x1="483.2" y1="45.24" x2="483.2" y2="52.28" stroke-width="1.25"/>
<line x1="479.6" y1="45.24" x2="486.8" y2="45.24" stroke-width="1.25"/>
<line x1="479.6" y1="52.28" x2="486.8" y2="52.28" stroke-width="1.25"/>
<line x1="496.06" y1="44.07" x2="496.06" y2="51.11" stroke-width="1.25"/>
<line x1="492.46" y1="44.07" x2="499.66" y2="44.07" stroke-width="1.25"/>
<line x1="492.46" y1="51.11" x2="499.66" y2="51.11" stroke-width="1.25"/>
<line x1="508.92" y1="45.24" x2="508.92" y2="52.28" stroke-width="1.25"/>
<line x1="505.32" y1="45.24" x2="512.52" y2="45.24" stroke-width="1.25"/>
<line x1="505.32" y1="52.28" x2="512.52" y2="52.28" stroke-width="1.25"/>
<line x1="541.07" y1="42.9" x2="541.07" y2="49.93" stroke-width="1.25"/>
<line x1="537.47" y1="42.9" x2="544.67" y2="42.9" stroke-width="1.25"/>
<line x1="537.47" y1="49.93" x2="544.67" y2="49.93" stroke-width="1.25"/>
<line x1="354.6" y1="53.45" x2="354.6" y2="58.15" stroke-width="1.25"/>
<line x1="351" y1="53.45" x2="358.2" y2="53.45" stroke-width="1.25"/>
<line x1="351" y1="58.15" x2="358.2" y2="58.15" stroke-width="1.25"/>
<line x1="373.89" y1="52.28" x2="373.89" y2="56.97" stroke-width="1.25"/>
<line x1="370.29" y1="52.28" x2="377.49" y2="52.28" stroke-width="1.25"/>
<line x1="370.29" y1="56.97" x2="377.49" y2="56.97" stroke-width="1.25"/>
<line x1="393.18" y1="48.76" x2="393.18" y2="60.49" stroke-width="1.25"/>
<line x1="389.58" y1="48.76" x2="396.78" y2="48.76" stroke-width="1.25"/>
<line x1="389.58" y1="60.49" x2="396.78" y2="60.49" stroke-width="1.25"/>
<line x1="418.9" y1="45.24" x2="418.9" y2="56.97" stroke-width="1.25"/>
<line x1="415.3" y1="45.24" x2="422.5" y2="45.24" stroke-width="1.25"/>
<line x1="415.3" y1="56.97" x2="422.5" y2="56.97" stroke-width="1.25"/>
<line x1="438.19" y1="46.42" x2="438.19" y2="60.49" stroke-width="1.25"/>
<line x1="434.59" y1="46.42" x2="441.79" y2="46.42" stroke-width="1.25"/>
<line x1="434.59" y1="60.49" x2="441.79" y2="60.49" stroke-width="1.25"/>
<line x1="451.05" y1="45.24" x2="451.05" y2="56.97" stroke-width="1.25"/>
<line x1="447.45" y1="45.24" x2="454.65" y2="45.24" stroke-width="1.25"/>
<line x1="447.45" y1="56.97" x2="454.65" y2="56.97" stroke-width="1.25"/>
<line x1="483.2" y1="44.07" x2="483.2" y2="51.11" stroke-width="1.25"/>
<line x1="479.6" y1="44.07" x2="486.8" y2="44.07" stroke-width="1.25"/>
<line x1="479.6" y1="51.11" x2="486.8" y2="51.11" stroke-width="1.25"/>
<line x1="496.06" y1="42.9" x2="496.06" y2="49.93" stroke-width="1.25"/>
<line x1="492.46" y1="42.9" x2="499.66" y2="42.9" stroke-width="1.25"/>
<line x1="492.46" y1="49.93" x2="499.66" y2="49.93" stroke-width="1.25"/>
<line x1="508.92" y1="44.07" x2="508.92" y2="51.11" stroke-width="1.25"/>
<line x1="505.32" y1="44.07" x2="512.52" y2="44.07" stroke-width="1.25"/>
<line x1="505.32" y1="51.11" x2="512.52" y2="51.11" stroke-width="1.25"/>
<line x1="541.07" y1="41.72" x2="541.07" y2="48.76" stroke-width="1.25"/>
<line x1="537.47" y1="41.72" x2="544.67" y2="41.72" stroke-width="1.25"/>
<line x1="537.47" y1="48.76" x2="544.67" y2="48.76" stroke-width="1.25"/>
<line x1="354.6" y1="53.45" x2="354.6" y2="58.15" stroke-width="1.25"/>
<line x1="351" y1="53.45" x2="358.2" y2="53.45" stroke-width="1.25"/>
<line x1="351" y1="58.15" x2="358.2" y2="58.15" stroke-width="1.25"/>
<line x1="373.89" y1="53.45" x2="373.89" y2="58.15" stroke-width="1.25"/>
<line x1="370.29" y1="53.45" x2="377.49" y2="53.45" stroke-width="1.25"/>
<line x1="370.29" y1="58.15" x2="377.49" y2="58.15" stroke-width="1.25"/>
<line x1="393.18" y1="52.28" x2="393.18" y2="59.32" stroke-width="1.25"/>
<line x1="389.58" y1="52.28" x2="396.78" y2="52.28" stroke-width="1.25"/>
<line x1="389.58" y1="59.32" x2="396.78" y2="59.32" stroke-width="1.25"/>
<line x1="418.9" y1="49.93" x2="418.9" y2="59.32" stroke-width="1.25"/>
<line x1="415.3" y1="49.93" x2="422.5" y2="49.93" stroke-width="1.25"/>
<line x1="415.3" y1="59.32" x2="422.5" y2="59.32" stroke-width="1.25"/>
<line x1="438.19" y1="53.45" x2="438.19" y2="62.84" stroke-width="1.25"/>
<line x1="434.59" y1="53.45" x2="441.79" y2="53.45" stroke-width="1.25"/>
<line x1="434.59" y1="62.84" x2="441.79" y2="62.84" stroke-width="1.25"/>
<line x1="451.05" y1="49.93" x2="451.05" y2="59.32" stroke-width="1.25"/>
<line x1="447.45" y1="49.93" x2="454.65" y2="49.93" stroke-width="1.25"/>
<line x1="447.45" y1="59.32" x2="454.65" y2="59.32" stroke-width="1.25"/>
<line x1="483.2" y1="47.59" x2="483.2" y2="54.63" stroke-width="1.25"/>
<line x1="479.6" y1="47.59" x2="486.8" y2="47.59" stroke-width="1.25"/>
<line x1="479.6" y1="54.63" x2="486.8" y2="54.63" stroke-width="1.25"/>
<line x1="496.06" y1="45.24" x2="496.06" y2="52.28" stroke-width="1.25"/>
<line x1="492.46" y1="45.24" x2="499.66" y2="45.24" stroke-width="1.25"/>
<line x1="492.46" y1="52.28" x2="499.66" y2="52.28" stroke-width="1.25"/>
<line x1="508.92" y1="45.24" x2="508.92" y2="52.28" stroke-width="1.25"/>
<line x1="505.32" y1="45.24" x2="512.52" y2="45.24" stroke-width="1.25"/>
<line x1="505.32" y1="52.28" x2="512.52" y2="52.28" stroke-width="1.25"/>
<line x1="541.07" y1="46.42" x2="541.07" y2="53.45" stroke-width="1.25"/>
<line x1="537.47" y1="46.42" x2="544.67" y2="46.42" stroke-width="1.25"/>
<line x1="537.47" y1="53.45" x2="544.67" y2="53.45" stroke-width="1.25"/>
<polygon points="354.6,52.46 358.12,59.14 351.08,59.14" fill="#000" stroke-width="0.6"/>
<polygon points="373.89,51.28 377.41,57.97 370.37,57.97" fill="#000" stroke-width="0.6"/>
<polygon points="393.18,55.97 396.7,62.66 389.66,62.66" fill="#000" stroke-width="0.6"/>
<polygon points="418.9,47.76 422.42,54.45 415.38,54.45" fill="#000" stroke-width="0.6"/>
<polygon points="438.19,48.94 441.71,55.62 434.67,55.62" fill="#000" stroke-width="0.6"/>
<polygon points="451.05,47.76 454.57,54.45 447.53,54.45" fill="#000" stroke-width="0.6"/>
<polygon points="483.2,43.07 486.72,49.76 479.68,49.76" fill="#000" stroke-width="0.6"/>
<polygon points="496.06,41.9 499.58,48.59 492.54,48.59" fill="#000" stroke-width="0.6"/>
<polygon points="508.92,43.07 512.44,49.76 505.4,49.76" fill="#000" stroke-width="0.6"/>
<polygon points="541.07,40.73 544.59,47.41 537.55,47.41" fill="#000" stroke-width="0.6"/>
<polygon points="354.6,59.14 358.12,52.46 351.08,52.46" fill="none" stroke-width="1.3"/>
<polygon points="373.89,57.97 377.41,51.28 370.37,51.28" fill="none" stroke-width="1.3"/>
<polygon points="393.18,59.14 396.7,52.46 389.66,52.46" fill="none" stroke-width="1.3"/>
<polygon points="418.9,55.62 422.42,48.94 415.38,48.94" fill="none" stroke-width="1.3"/>
<polygon points="438.19,56.8 441.71,50.11 434.67,50.11" fill="none" stroke-width="1.3"/>
<polygon points="451.05,54.45 454.57,47.76 447.53,47.76" fill="none" stroke-width="1.3"/>
<polygon points="483.2,50.93 486.72,44.24 479.68,44.24" fill="none" stroke-width="1.3"/>
<polygon points="496.06,49.76 499.58,43.07 492.54,43.07" fill="none" stroke-width="1.3"/>
<polygon points="508.92,50.93 512.44,44.24 505.4,44.24" fill="none" stroke-width="1.3"/>
<polygon points="541.07,49.76 544.59,43.07 537.55,43.07" fill="none" stroke-width="1.3"/>
<polygon points="354.6,52.46 358.12,59.14 351.08,59.14" fill="none" stroke-width="1.3"/>
<polygon points="373.89,51.28 377.41,57.97 370.37,57.97" fill="none" stroke-width="1.3"/>
<polygon points="393.18,54.8 396.7,61.49 389.66,61.49" fill="none" stroke-width="1.3"/>
<polygon points="418.9,48.94 422.42,55.62 415.38,55.62" fill="none" stroke-width="1.3"/>
<polygon points="438.19,52.46 441.71,59.14 434.67,59.14" fill="none" stroke-width="1.3"/>
<polygon points="451.05,50.11 454.57,56.8 447.53,56.8" fill="none" stroke-width="1.3"/>
<polygon points="483.2,46.59 486.72,53.28 479.68,53.28" fill="none" stroke-width="1.3"/>
<polygon points="496.06,44.24 499.58,50.93 492.54,50.93" fill="none" stroke-width="1.3"/>
<polygon points="508.92,46.59 512.44,53.28 505.4,53.28" fill="none" stroke-width="1.3"/>
<polygon points="541.07,44.24 544.59,50.93 537.55,50.93" fill="none" stroke-width="1.3"/>
<path d="M351.02 52.75L358.18 58.85M351.02 58.85L358.18 52.75" stroke-width="1.7"/>
<path d="M370.31 52.75L377.47 58.85M370.31 58.85L377.47 52.75" stroke-width="1.7"/>
<path d="M389.6 53.93L396.76 60.02M389.6 60.02L396.76 53.93" stroke-width="1.7"/>
<path d="M415.32 50.41L422.48 56.5M415.32 56.5L422.48 50.41" stroke-width="1.7"/>
<path d="M434.61 51.58L441.77 57.67M434.61 57.67L441.77 51.58" stroke-width="1.7"/>
<path d="M447.47 49.23L454.63 55.33M447.47 55.33L454.63 49.23" stroke-width="1.7"/>
<path d="M479.62 45.72L486.78 51.81M479.62 51.81L486.78 45.72" stroke-width="1.7"/>
<path d="M492.48 44.54L499.64 50.64M492.48 50.64L499.64 44.54" stroke-width="1.7"/>
<path d="M505.34 45.72L512.5 51.81M505.34 51.81L512.5 45.72" stroke-width="1.7"/>
<path d="M537.49 43.37L544.65 49.46M537.49 49.46L544.65 43.37" stroke-width="1.7"/>
<rect x="351.56" y="52.76" width="6.08" height="6.08" fill="none" stroke-width="1.3"/>
<rect x="370.85" y="51.59" width="6.08" height="6.08" fill="none" stroke-width="1.3"/>
<rect x="390.14" y="51.59" width="6.08" height="6.08" fill="none" stroke-width="1.3"/>
<rect x="415.86" y="48.07" width="6.08" height="6.08" fill="none" stroke-width="1.3"/>
<rect x="435.15" y="50.41" width="6.08" height="6.08" fill="none" stroke-width="1.3"/>
<rect x="448.01" y="48.07" width="6.08" height="6.08" fill="none" stroke-width="1.3"/>
<rect x="480.16" y="44.55" width="6.08" height="6.08" fill="none" stroke-width="1.3"/>
<rect x="493.02" y="43.38" width="6.08" height="6.08" fill="none" stroke-width="1.3"/>
<rect x="505.88" y="44.55" width="6.08" height="6.08" fill="none" stroke-width="1.3"/>
<rect x="538.03" y="42.2" width="6.08" height="6.08" fill="none" stroke-width="1.3"/>
<circle cx="354.6" cy="55.8" r="3.2" fill="none" stroke-width="1.3"/>
<circle cx="373.89" cy="55.8" r="3.2" fill="none" stroke-width="1.3"/>
<circle cx="393.18" cy="55.8" r="3.2" fill="none" stroke-width="1.3"/>
<circle cx="418.9" cy="54.63" r="3.2" fill="none" stroke-width="1.3"/>
<circle cx="438.19" cy="58.15" r="3.2" fill="none" stroke-width="1.3"/>
<circle cx="451.05" cy="54.63" r="3.2" fill="none" stroke-width="1.3"/>
<circle cx="483.2" cy="51.11" r="3.2" fill="none" stroke-width="1.3"/>
<circle cx="496.06" cy="48.76" r="3.2" fill="none" stroke-width="1.3"/>
<circle cx="508.92" cy="48.76" r="3.2" fill="none" stroke-width="1.3"/>
<circle cx="541.07" cy="49.93" r="3.2" fill="none" stroke-width="1.3"/>
<line x1="377.4" y1="87.2" x2="395.4" y2="87.2" stroke-width="1.3"/>
<circle cx="386.4" cy="87.2" r="3.2" fill="none" stroke-width="1.3"/>
<text x="406.3" y="91.56" font-size="11.9">Control</text>
<line x1="377.4" y1="102.7" x2="395.4" y2="102.7" stroke-width="1.3"/>
<rect x="383.36" y="99.66" width="6.08" height="6.08" fill="none" stroke-width="1.3"/>
<text x="406.3" y="107.06" font-size="11.9">F2</text>
<line x1="377.4" y1="118.4" x2="395.4" y2="118.4" stroke-width="1.3"/>
<path d="M382.82 115.35L389.98 121.45M382.82 121.45L389.98 115.35" stroke-width="1.7"/>
<text x="406.3" y="122.76" font-size="11.9">F5</text>
<line x1="377.4" y1="133.4" x2="395.4" y2="133.4" stroke-width="1.3"/>
<polygon points="386.4,130.06 389.92,136.74 382.88,136.74" fill="none" stroke-width="1.3"/>
<text x="406.3" y="137.76" font-size="11.9">F3</text>
<line x1="377.4" y1="149.3" x2="395.4" y2="149.3" stroke-width="1.3"/>
<polygon points="386.4,152.64 389.92,145.96 382.88,145.96" fill="none" stroke-width="1.3"/>
<text x="406.3" y="153.66" font-size="11.9">F1</text>
<line x1="377.4" y1="164.6" x2="395.4" y2="164.6" stroke-width="1.3"/>
<polygon points="386.4,161.26 389.92,167.94 382.88,167.94" fill="#000" stroke-width="0.6"/>
<text x="406.3" y="168.96" font-size="11.9">F4 (HQGGT)</text>
<line x1="53.3" y1="236.9" x2="53.3" y2="379.2" stroke-width="1.45"/>
<line x1="52.6" y1="378.5" x2="246.2" y2="378.5" stroke-width="1.45"/>
<line x1="48.5" y1="378.5" x2="53.3" y2="378.5" stroke-width="1.45"/>
<text x="44.8" y="382.4" font-size="10.9" text-anchor="end">0</text>
<line x1="50.8" y1="364.4" x2="53.3" y2="364.4" stroke-width="1.45"/>
<line x1="48.5" y1="350.3" x2="53.3" y2="350.3" stroke-width="1.45"/>
<text x="44.8" y="354.2" font-size="10.9" text-anchor="end">400</text>
<line x1="50.8" y1="336.2" x2="53.3" y2="336.2" stroke-width="1.45"/>
<line x1="48.5" y1="322.1" x2="53.3" y2="322.1" stroke-width="1.45"/>
<text x="44.8" y="326" font-size="10.9" text-anchor="end">800</text>
<line x1="50.8" y1="308" x2="53.3" y2="308" stroke-width="1.45"/>
<line x1="48.5" y1="293.9" x2="53.3" y2="293.9" stroke-width="1.45"/>
<text x="44.8" y="297.8" font-size="10.9" text-anchor="end">1200</text>
<line x1="50.8" y1="279.8" x2="53.3" y2="279.8" stroke-width="1.45"/>
<line x1="48.5" y1="265.7" x2="53.3" y2="265.7" stroke-width="1.45"/>
<text x="44.8" y="269.6" font-size="10.9" text-anchor="end">1600</text>
<line x1="50.8" y1="251.6" x2="53.3" y2="251.6" stroke-width="1.45"/>
<line x1="48.5" y1="237.5" x2="53.3" y2="237.5" stroke-width="1.45"/>
<text x="44.8" y="241.4" font-size="10.9" text-anchor="end">2000</text>
<line x1="53.3" y1="378.5" x2="53.3" y2="383.5" stroke-width="1.45"/>
<text x="53.3" y="396.1" font-size="10.9" text-anchor="middle">0</text>
<line x1="79.7" y1="378.5" x2="79.7" y2="383.5" stroke-width="1.45"/>
<text x="79.7" y="396.1" font-size="10.9" text-anchor="middle">4</text>
<line x1="106.1" y1="378.5" x2="106.1" y2="383.5" stroke-width="1.45"/>
<text x="106.1" y="396.1" font-size="10.9" text-anchor="middle">8</text>
<line x1="132.5" y1="378.5" x2="132.5" y2="383.5" stroke-width="1.45"/>
<text x="132.5" y="396.1" font-size="10.9" text-anchor="middle">12</text>
<line x1="158.9" y1="378.5" x2="158.9" y2="383.5" stroke-width="1.45"/>
<text x="158.9" y="396.1" font-size="10.9" text-anchor="middle">16</text>
<line x1="185.3" y1="378.5" x2="185.3" y2="383.5" stroke-width="1.45"/>
<text x="185.3" y="396.1" font-size="10.9" text-anchor="middle">20</text>
<line x1="211.7" y1="378.5" x2="211.7" y2="383.5" stroke-width="1.45"/>
<text x="211.7" y="396.1" font-size="10.9" text-anchor="middle">24</text>
<line x1="238.1" y1="378.5" x2="238.1" y2="383.5" stroke-width="1.45"/>
<text x="238.1" y="396.1" font-size="10.9" text-anchor="middle">28</text>
<text x="162" y="415.2" font-size="14" text-anchor="middle" textLength="32.3" lengthAdjust="spacingAndGlyphs">Days</text>
<text transform="translate(12.6 301.1) rotate(-90)" x="0" y="0" font-size="14" text-anchor="middle" textLength="149.3" lengthAdjust="spacingAndGlyphs">Initial tumor volume (%)</text>
<text class="l" transform="translate(1.2 221) scale(1.1 1)" x="0" y="0" font-size="19.6">c</text>
<polyline points="53.3,371.45 73.1,366.51 92.9,362.99 119.3,360.88 139.1,357.35 152.3,348.89 185.3,343.25 198.5,338.31 211.7,327.04 244.7,313.64" fill="none" stroke-width="1.3"/>
<polyline points="53.3,371.45 73.1,364.4 92.9,360.88 119.3,360.17 139.1,353.82 152.3,348.19 185.3,339.02 198.5,329.15 211.7,323.51 244.7,308" fill="none" stroke-width="1.3"/>
<polyline points="53.3,371.45 73.1,366.51 92.9,361.58 119.3,360.17 139.1,354.53 152.3,347.48 185.3,337.61 198.5,334.79 211.7,322.1 244.7,303.77" fill="none" stroke-width="1.3"/>
<polyline points="53.3,371.45 73.1,367.93 92.9,362.99 119.3,359.47 139.1,355.94 152.3,346.77 185.3,336.2 198.5,331.97 211.7,319.99 244.7,299.54" fill="none" stroke-width="1.3"/>
<polyline points="53.3,371.45 73.1,367.22 92.9,362.29 119.3,358.76 139.1,355.24 152.3,345.37 185.3,333.38 198.5,330.56 211.7,311.52 244.7,288.97" fill="none" stroke-width="1.3"/>
<polyline points="53.3,371.45 73.1,365.81 92.9,359.47 119.3,357.35 139.1,352.42 152.3,337.61 185.3,327.04 198.5,315.05 211.7,302.36 244.7,277.69" fill="none" stroke-width="1.3"/>
<line x1="53.3" y1="370.39" x2="53.3" y2="372.51" stroke-width="1.25"/>
<line x1="49.7" y1="370.39" x2="56.9" y2="370.39" stroke-width="1.25"/>
<line x1="49.7" y1="372.51" x2="56.9" y2="372.51" stroke-width="1.25"/>
<line x1="73.1" y1="364.75" x2="73.1" y2="368.28" stroke-width="1.25"/>
<line x1="69.5" y1="364.75" x2="76.7" y2="364.75" stroke-width="1.25"/>
<line x1="69.5" y1="368.28" x2="76.7" y2="368.28" stroke-width="1.25"/>
<line x1="92.9" y1="357.35" x2="92.9" y2="369.41" stroke-width="1.25"/>
<line x1="89.3" y1="357.35" x2="96.5" y2="357.35" stroke-width="1.25"/>
<line x1="89.3" y1="369.41" x2="96.5" y2="369.41" stroke-width="1.25"/>
<line x1="119.3" y1="357.35" x2="119.3" y2="364.68" stroke-width="1.25"/>
<line x1="115.7" y1="357.35" x2="122.9" y2="357.35" stroke-width="1.25"/>
<line x1="115.7" y1="364.68" x2="122.9" y2="364.68" stroke-width="1.25"/>
<line x1="139.1" y1="355.24" x2="139.1" y2="366.02" stroke-width="1.25"/>
<line x1="135.5" y1="355.24" x2="142.7" y2="355.24" stroke-width="1.25"/>
<line x1="135.5" y1="366.02" x2="142.7" y2="366.02" stroke-width="1.25"/>
<line x1="152.3" y1="336.2" x2="152.3" y2="363.34" stroke-width="1.25"/>
<line x1="148.7" y1="336.2" x2="155.9" y2="336.2" stroke-width="1.25"/>
<line x1="148.7" y1="363.34" x2="155.9" y2="363.34" stroke-width="1.25"/>
<line x1="185.3" y1="327.04" x2="185.3" y2="359.47" stroke-width="1.25"/>
<line x1="181.7" y1="327.04" x2="188.9" y2="327.04" stroke-width="1.25"/>
<line x1="181.7" y1="359.47" x2="188.9" y2="359.47" stroke-width="1.25"/>
<line x1="198.5" y1="317.87" x2="198.5" y2="358.97" stroke-width="1.25"/>
<line x1="194.9" y1="317.87" x2="202.1" y2="317.87" stroke-width="1.25"/>
<line x1="194.9" y1="358.97" x2="202.1" y2="358.97" stroke-width="1.25"/>
<line x1="211.7" y1="308" x2="211.7" y2="360.73" stroke-width="1.25"/>
<line x1="208.1" y1="308" x2="215.3" y2="308" stroke-width="1.25"/>
<line x1="208.1" y1="360.73" x2="215.3" y2="360.73" stroke-width="1.25"/>
<line x1="244.7" y1="283.32" x2="244.7" y2="355.59" stroke-width="1.25"/>
<line x1="241.1" y1="283.32" x2="248.3" y2="283.32" stroke-width="1.25"/>
<line x1="241.1" y1="355.59" x2="248.3" y2="355.59" stroke-width="1.25"/>
<line x1="53.3" y1="370.39" x2="53.3" y2="372.51" stroke-width="1.25"/>
<line x1="49.7" y1="370.39" x2="56.9" y2="370.39" stroke-width="1.25"/>
<line x1="49.7" y1="372.51" x2="56.9" y2="372.51" stroke-width="1.25"/>
<line x1="73.1" y1="362.64" x2="73.1" y2="366.16" stroke-width="1.25"/>
<line x1="69.5" y1="362.64" x2="76.7" y2="362.64" stroke-width="1.25"/>
<line x1="69.5" y1="366.16" x2="76.7" y2="366.16" stroke-width="1.25"/>
<line x1="92.9" y1="358.06" x2="92.9" y2="363.69" stroke-width="1.25"/>
<line x1="89.3" y1="358.06" x2="96.5" y2="358.06" stroke-width="1.25"/>
<line x1="89.3" y1="363.69" x2="96.5" y2="363.69" stroke-width="1.25"/>
<line x1="119.3" y1="356.64" x2="119.3" y2="363.69" stroke-width="1.25"/>
<line x1="115.7" y1="356.64" x2="122.9" y2="356.64" stroke-width="1.25"/>
<line x1="115.7" y1="363.69" x2="122.9" y2="363.69" stroke-width="1.25"/>
<line x1="139.1" y1="349.6" x2="139.1" y2="358.06" stroke-width="1.25"/>
<line x1="135.5" y1="349.6" x2="142.7" y2="349.6" stroke-width="1.25"/>
<line x1="135.5" y1="358.06" x2="142.7" y2="358.06" stroke-width="1.25"/>
<line x1="152.3" y1="342.55" x2="152.3" y2="353.82" stroke-width="1.25"/>
<line x1="148.7" y1="342.55" x2="155.9" y2="342.55" stroke-width="1.25"/>
<line x1="148.7" y1="353.82" x2="155.9" y2="353.82" stroke-width="1.25"/>
<line x1="185.3" y1="331.97" x2="185.3" y2="346.07" stroke-width="1.25"/>
<line x1="181.7" y1="331.97" x2="188.9" y2="331.97" stroke-width="1.25"/>
<line x1="181.7" y1="346.07" x2="188.9" y2="346.07" stroke-width="1.25"/>
<line x1="198.5" y1="322.1" x2="198.5" y2="336.2" stroke-width="1.25"/>
<line x1="194.9" y1="322.1" x2="202.1" y2="322.1" stroke-width="1.25"/>
<line x1="194.9" y1="336.2" x2="202.1" y2="336.2" stroke-width="1.25"/>
<line x1="211.7" y1="303.77" x2="211.7" y2="343.25" stroke-width="1.25"/>
<line x1="208.1" y1="303.77" x2="215.3" y2="303.77" stroke-width="1.25"/>
<line x1="208.1" y1="343.25" x2="215.3" y2="343.25" stroke-width="1.25"/>
<line x1="244.7" y1="283.32" x2="244.7" y2="351.71" stroke-width="1.25"/>
<line x1="241.1" y1="283.32" x2="248.3" y2="283.32" stroke-width="1.25"/>
<line x1="241.1" y1="351.71" x2="248.3" y2="351.71" stroke-width="1.25"/>
<line x1="53.3" y1="370.39" x2="53.3" y2="372.51" stroke-width="1.25"/>
<line x1="49.7" y1="370.39" x2="56.9" y2="370.39" stroke-width="1.25"/>
<line x1="49.7" y1="372.51" x2="56.9" y2="372.51" stroke-width="1.25"/>
<line x1="73.1" y1="364.75" x2="73.1" y2="368.28" stroke-width="1.25"/>
<line x1="69.5" y1="364.75" x2="76.7" y2="364.75" stroke-width="1.25"/>
<line x1="69.5" y1="368.28" x2="76.7" y2="368.28" stroke-width="1.25"/>
<line x1="92.9" y1="358.76" x2="92.9" y2="364.4" stroke-width="1.25"/>
<line x1="89.3" y1="358.76" x2="96.5" y2="358.76" stroke-width="1.25"/>
<line x1="89.3" y1="364.4" x2="96.5" y2="364.4" stroke-width="1.25"/>
<line x1="119.3" y1="356.64" x2="119.3" y2="363.69" stroke-width="1.25"/>
<line x1="115.7" y1="356.64" x2="122.9" y2="356.64" stroke-width="1.25"/>
<line x1="115.7" y1="363.69" x2="122.9" y2="363.69" stroke-width="1.25"/>
<line x1="139.1" y1="350.3" x2="139.1" y2="358.76" stroke-width="1.25"/>
<line x1="135.5" y1="350.3" x2="142.7" y2="350.3" stroke-width="1.25"/>
<line x1="135.5" y1="358.76" x2="142.7" y2="358.76" stroke-width="1.25"/>
<line x1="152.3" y1="341.84" x2="152.3" y2="353.12" stroke-width="1.25"/>
<line x1="148.7" y1="341.84" x2="155.9" y2="341.84" stroke-width="1.25"/>
<line x1="148.7" y1="353.12" x2="155.9" y2="353.12" stroke-width="1.25"/>
<line x1="185.3" y1="330.56" x2="185.3" y2="344.66" stroke-width="1.25"/>
<line x1="181.7" y1="330.56" x2="188.9" y2="330.56" stroke-width="1.25"/>
<line x1="181.7" y1="344.66" x2="188.9" y2="344.66" stroke-width="1.25"/>
<line x1="198.5" y1="312.94" x2="198.5" y2="356.93" stroke-width="1.25"/>
<line x1="194.9" y1="312.94" x2="202.1" y2="312.94" stroke-width="1.25"/>
<line x1="194.9" y1="356.93" x2="202.1" y2="356.93" stroke-width="1.25"/>
<line x1="211.7" y1="308" x2="211.7" y2="358.2" stroke-width="1.25"/>
<line x1="208.1" y1="308" x2="215.3" y2="308" stroke-width="1.25"/>
<line x1="208.1" y1="358.2" x2="215.3" y2="358.2" stroke-width="1.25"/>
<line x1="244.7" y1="286.85" x2="244.7" y2="340.78" stroke-width="1.25"/>
<line x1="241.1" y1="286.85" x2="248.3" y2="286.85" stroke-width="1.25"/>
<line x1="241.1" y1="340.78" x2="248.3" y2="340.78" stroke-width="1.25"/>
<line x1="53.3" y1="370.39" x2="53.3" y2="372.51" stroke-width="1.25"/>
<line x1="49.7" y1="370.39" x2="56.9" y2="370.39" stroke-width="1.25"/>
<line x1="49.7" y1="372.51" x2="56.9" y2="372.51" stroke-width="1.25"/>
<line x1="73.1" y1="366.16" x2="73.1" y2="369.69" stroke-width="1.25"/>
<line x1="69.5" y1="366.16" x2="76.7" y2="366.16" stroke-width="1.25"/>
<line x1="69.5" y1="369.69" x2="76.7" y2="369.69" stroke-width="1.25"/>
<line x1="92.9" y1="360.17" x2="92.9" y2="365.81" stroke-width="1.25"/>
<line x1="89.3" y1="360.17" x2="96.5" y2="360.17" stroke-width="1.25"/>
<line x1="89.3" y1="365.81" x2="96.5" y2="365.81" stroke-width="1.25"/>
<line x1="119.3" y1="355.94" x2="119.3" y2="362.99" stroke-width="1.25"/>
<line x1="115.7" y1="355.94" x2="122.9" y2="355.94" stroke-width="1.25"/>
<line x1="115.7" y1="362.99" x2="122.9" y2="362.99" stroke-width="1.25"/>
<line x1="139.1" y1="351.71" x2="139.1" y2="360.17" stroke-width="1.25"/>
<line x1="135.5" y1="351.71" x2="142.7" y2="351.71" stroke-width="1.25"/>
<line x1="135.5" y1="360.17" x2="142.7" y2="360.17" stroke-width="1.25"/>
<line x1="152.3" y1="341.13" x2="152.3" y2="352.42" stroke-width="1.25"/>
<line x1="148.7" y1="341.13" x2="155.9" y2="341.13" stroke-width="1.25"/>
<line x1="148.7" y1="352.42" x2="155.9" y2="352.42" stroke-width="1.25"/>
<line x1="185.3" y1="329.15" x2="185.3" y2="343.25" stroke-width="1.25"/>
<line x1="181.7" y1="329.15" x2="188.9" y2="329.15" stroke-width="1.25"/>
<line x1="181.7" y1="343.25" x2="188.9" y2="343.25" stroke-width="1.25"/>
<line x1="198.5" y1="324.92" x2="198.5" y2="339.02" stroke-width="1.25"/>
<line x1="194.9" y1="324.92" x2="202.1" y2="324.92" stroke-width="1.25"/>
<line x1="194.9" y1="339.02" x2="202.1" y2="339.02" stroke-width="1.25"/>
<line x1="211.7" y1="311.52" x2="211.7" y2="328.44" stroke-width="1.25"/>
<line x1="208.1" y1="311.52" x2="215.3" y2="311.52" stroke-width="1.25"/>
<line x1="208.1" y1="328.44" x2="215.3" y2="328.44" stroke-width="1.25"/>
<line x1="244.7" y1="291.08" x2="244.7" y2="308" stroke-width="1.25"/>
<line x1="241.1" y1="291.08" x2="248.3" y2="291.08" stroke-width="1.25"/>
<line x1="241.1" y1="308" x2="248.3" y2="308" stroke-width="1.25"/>
<line x1="53.3" y1="370.39" x2="53.3" y2="372.51" stroke-width="1.25"/>
<line x1="49.7" y1="370.39" x2="56.9" y2="370.39" stroke-width="1.25"/>
<line x1="49.7" y1="372.51" x2="56.9" y2="372.51" stroke-width="1.25"/>
<line x1="73.1" y1="365.46" x2="73.1" y2="368.98" stroke-width="1.25"/>
<line x1="69.5" y1="365.46" x2="76.7" y2="365.46" stroke-width="1.25"/>
<line x1="69.5" y1="368.98" x2="76.7" y2="368.98" stroke-width="1.25"/>
<line x1="92.9" y1="359.47" x2="92.9" y2="365.11" stroke-width="1.25"/>
<line x1="89.3" y1="359.47" x2="96.5" y2="359.47" stroke-width="1.25"/>
<line x1="89.3" y1="365.11" x2="96.5" y2="365.11" stroke-width="1.25"/>
<line x1="119.3" y1="355.24" x2="119.3" y2="362.29" stroke-width="1.25"/>
<line x1="115.7" y1="355.24" x2="122.9" y2="355.24" stroke-width="1.25"/>
<line x1="115.7" y1="362.29" x2="122.9" y2="362.29" stroke-width="1.25"/>
<line x1="139.1" y1="351" x2="139.1" y2="359.47" stroke-width="1.25"/>
<line x1="135.5" y1="351" x2="142.7" y2="351" stroke-width="1.25"/>
<line x1="135.5" y1="359.47" x2="142.7" y2="359.47" stroke-width="1.25"/>
<line x1="152.3" y1="339.73" x2="152.3" y2="351" stroke-width="1.25"/>
<line x1="148.7" y1="339.73" x2="155.9" y2="339.73" stroke-width="1.25"/>
<line x1="148.7" y1="351" x2="155.9" y2="351" stroke-width="1.25"/>
<line x1="185.3" y1="324.92" x2="185.3" y2="341.84" stroke-width="1.25"/>
<line x1="181.7" y1="324.92" x2="188.9" y2="324.92" stroke-width="1.25"/>
<line x1="181.7" y1="341.84" x2="188.9" y2="341.84" stroke-width="1.25"/>
<line x1="198.5" y1="305.04" x2="198.5" y2="355.94" stroke-width="1.25"/>
<line x1="194.9" y1="305.04" x2="202.1" y2="305.04" stroke-width="1.25"/>
<line x1="194.9" y1="355.94" x2="202.1" y2="355.94" stroke-width="1.25"/>
<line x1="211.7" y1="277.9" x2="211.7" y2="339.02" stroke-width="1.25"/>
<line x1="208.1" y1="277.9" x2="215.3" y2="277.9" stroke-width="1.25"/>
<line x1="208.1" y1="339.02" x2="215.3" y2="339.02" stroke-width="1.25"/>
<line x1="244.7" y1="255.12" x2="244.7" y2="322.1" stroke-width="1.25"/>
<line x1="241.1" y1="255.12" x2="248.3" y2="255.12" stroke-width="1.25"/>
<line x1="241.1" y1="322.1" x2="248.3" y2="322.1" stroke-width="1.25"/>
<line x1="53.3" y1="370.39" x2="53.3" y2="372.51" stroke-width="1.25"/>
<line x1="49.7" y1="370.39" x2="56.9" y2="370.39" stroke-width="1.25"/>
<line x1="49.7" y1="372.51" x2="56.9" y2="372.51" stroke-width="1.25"/>
<line x1="73.1" y1="364.05" x2="73.1" y2="367.57" stroke-width="1.25"/>
<line x1="69.5" y1="364.05" x2="76.7" y2="364.05" stroke-width="1.25"/>
<line x1="69.5" y1="367.57" x2="76.7" y2="367.57" stroke-width="1.25"/>
<line x1="92.9" y1="352.77" x2="92.9" y2="362.99" stroke-width="1.25"/>
<line x1="89.3" y1="352.77" x2="96.5" y2="352.77" stroke-width="1.25"/>
<line x1="89.3" y1="362.99" x2="96.5" y2="362.99" stroke-width="1.25"/>
<line x1="119.3" y1="349.6" x2="119.3" y2="360.88" stroke-width="1.25"/>
<line x1="115.7" y1="349.6" x2="122.9" y2="349.6" stroke-width="1.25"/>
<line x1="115.7" y1="360.88" x2="122.9" y2="360.88" stroke-width="1.25"/>
<line x1="139.1" y1="344.8" x2="139.1" y2="357.35" stroke-width="1.25"/>
<line x1="135.5" y1="344.8" x2="142.7" y2="344.8" stroke-width="1.25"/>
<line x1="135.5" y1="357.35" x2="142.7" y2="357.35" stroke-width="1.25"/>
<line x1="152.3" y1="325.27" x2="152.3" y2="349.95" stroke-width="1.25"/>
<line x1="148.7" y1="325.27" x2="155.9" y2="325.27" stroke-width="1.25"/>
<line x1="148.7" y1="349.95" x2="155.9" y2="349.95" stroke-width="1.25"/>
<line x1="185.3" y1="311.6" x2="185.3" y2="342.55" stroke-width="1.25"/>
<line x1="181.7" y1="311.6" x2="188.9" y2="311.6" stroke-width="1.25"/>
<line x1="181.7" y1="342.55" x2="188.9" y2="342.55" stroke-width="1.25"/>
<line x1="198.5" y1="296.01" x2="198.5" y2="334.08" stroke-width="1.25"/>
<line x1="194.9" y1="296.01" x2="202.1" y2="296.01" stroke-width="1.25"/>
<line x1="194.9" y1="334.08" x2="202.1" y2="334.08" stroke-width="1.25"/>
<line x1="211.7" y1="274.02" x2="211.7" y2="330.56" stroke-width="1.25"/>
<line x1="208.1" y1="274.02" x2="215.3" y2="274.02" stroke-width="1.25"/>
<line x1="208.1" y1="330.56" x2="215.3" y2="330.56" stroke-width="1.25"/>
<line x1="244.7" y1="238.49" x2="244.7" y2="316.46" stroke-width="1.25"/>
<line x1="241.1" y1="238.49" x2="248.3" y2="238.49" stroke-width="1.25"/>
<line x1="241.1" y1="316.46" x2="248.3" y2="316.46" stroke-width="1.25"/>
<polygon points="53.3,374.79 56.82,368.11 49.78,368.11" fill="#000" stroke-width="0.6"/>
<polygon points="73.1,369.86 76.62,363.17 69.58,363.17" fill="#000" stroke-width="0.6"/>
<polygon points="92.9,366.33 96.42,359.65 89.38,359.65" fill="#000" stroke-width="0.6"/>
<polygon points="119.3,364.22 122.82,357.53 115.78,357.53" fill="#000" stroke-width="0.6"/>
<polygon points="139.1,360.69 142.62,354.01 135.58,354.01" fill="#000" stroke-width="0.6"/>
<polygon points="152.3,352.23 155.82,345.55 148.78,345.55" fill="#000" stroke-width="0.6"/>
<polygon points="185.3,346.59 188.82,339.91 181.78,339.91" fill="#000" stroke-width="0.6"/>
<polygon points="198.5,341.66 202.02,334.97 194.98,334.97" fill="#000" stroke-width="0.6"/>
<polygon points="211.7,330.38 215.22,323.69 208.18,323.69" fill="#000" stroke-width="0.6"/>
<polygon points="244.7,316.98 248.22,310.3 241.18,310.3" fill="#000" stroke-width="0.6"/>
<rect x="50.26" y="368.41" width="6.08" height="6.08" fill="none" stroke-width="1.3"/>
<rect x="70.06" y="361.36" width="6.08" height="6.08" fill="none" stroke-width="1.3"/>
<rect x="89.86" y="357.83" width="6.08" height="6.08" fill="none" stroke-width="1.3"/>
<rect x="116.26" y="357.13" width="6.08" height="6.08" fill="none" stroke-width="1.3"/>
<rect x="136.06" y="350.78" width="6.08" height="6.08" fill="none" stroke-width="1.3"/>
<rect x="149.26" y="345.14" width="6.08" height="6.08" fill="none" stroke-width="1.3"/>
<rect x="182.26" y="335.98" width="6.08" height="6.08" fill="none" stroke-width="1.3"/>
<rect x="195.46" y="326.11" width="6.08" height="6.08" fill="none" stroke-width="1.3"/>
<rect x="208.66" y="320.47" width="6.08" height="6.08" fill="none" stroke-width="1.3"/>
<rect x="241.66" y="304.96" width="6.08" height="6.08" fill="none" stroke-width="1.3"/>
<polygon points="53.3,368.11 56.82,374.79 49.78,374.79" fill="none" stroke-width="1.3"/>
<polygon points="73.1,363.17 76.62,369.86 69.58,369.86" fill="none" stroke-width="1.3"/>
<polygon points="92.9,358.24 96.42,364.92 89.38,364.92" fill="none" stroke-width="1.3"/>
<polygon points="119.3,356.83 122.82,363.51 115.78,363.51" fill="none" stroke-width="1.3"/>
<polygon points="139.1,351.19 142.62,357.87 135.58,357.87" fill="none" stroke-width="1.3"/>
<polygon points="152.3,344.14 155.82,350.82 148.78,350.82" fill="none" stroke-width="1.3"/>
<polygon points="185.3,334.27 188.82,340.95 181.78,340.95" fill="none" stroke-width="1.3"/>
<polygon points="198.5,331.45 202.02,338.13 194.98,338.13" fill="none" stroke-width="1.3"/>
<polygon points="211.7,318.76 215.22,325.44 208.18,325.44" fill="none" stroke-width="1.3"/>
<polygon points="244.7,300.43 248.22,307.11 241.18,307.11" fill="none" stroke-width="1.3"/>
<path d="M49.72 368.4L56.88 374.5M49.72 374.5L56.88 368.4" stroke-width="1.7"/>
<path d="M69.52 364.88L76.68 370.97M69.52 370.97L76.68 364.88" stroke-width="1.7"/>
<path d="M89.32 359.94L96.48 366.04M89.32 366.04L96.48 359.94" stroke-width="1.7"/>
<path d="M115.72 356.42L122.88 362.51M115.72 362.51L122.88 356.42" stroke-width="1.7"/>
<path d="M135.52 352.89L142.68 358.99M135.52 358.99L142.68 352.89" stroke-width="1.7"/>
<path d="M148.72 343.73L155.88 349.82M148.72 349.82L155.88 343.73" stroke-width="1.7"/>
<path d="M181.72 333.15L188.88 339.25M181.72 339.25L188.88 333.15" stroke-width="1.7"/>
<path d="M194.92 328.92L202.08 335.02M194.92 335.02L202.08 328.92" stroke-width="1.7"/>
<path d="M208.12 316.94L215.28 323.03M208.12 323.03L215.28 316.94" stroke-width="1.7"/>
<path d="M241.12 296.49L248.28 302.59M241.12 302.59L248.28 296.49" stroke-width="1.7"/>
<polygon points="53.3,374.79 56.82,368.11 49.78,368.11" fill="none" stroke-width="1.3"/>
<polygon points="73.1,370.56 76.62,363.88 69.58,363.88" fill="none" stroke-width="1.3"/>
<polygon points="92.9,365.63 96.42,358.94 89.38,358.94" fill="none" stroke-width="1.3"/>
<polygon points="119.3,362.1 122.82,355.42 115.78,355.42" fill="none" stroke-width="1.3"/>
<polygon points="139.1,358.58 142.62,351.89 135.58,351.89" fill="none" stroke-width="1.3"/>
<polygon points="152.3,348.71 155.82,342.02 148.78,342.02" fill="none" stroke-width="1.3"/>
<polygon points="185.3,336.72 188.82,330.04 181.78,330.04" fill="none" stroke-width="1.3"/>
<polygon points="198.5,333.9 202.02,327.22 194.98,327.22" fill="none" stroke-width="1.3"/>
<polygon points="211.7,314.87 215.22,308.18 208.18,308.18" fill="none" stroke-width="1.3"/>
<polygon points="244.7,292.31 248.22,285.62 241.18,285.62" fill="none" stroke-width="1.3"/>
<circle cx="53.3" cy="371.45" r="3.2" fill="none" stroke-width="1.3"/>
<circle cx="73.1" cy="365.81" r="3.2" fill="none" stroke-width="1.3"/>
<circle cx="92.9" cy="359.47" r="3.2" fill="none" stroke-width="1.3"/>
<circle cx="119.3" cy="357.35" r="3.2" fill="none" stroke-width="1.3"/>
<circle cx="139.1" cy="352.42" r="3.2" fill="none" stroke-width="1.3"/>
<circle cx="152.3" cy="337.61" r="3.2" fill="none" stroke-width="1.3"/>
<circle cx="185.3" cy="327.04" r="3.2" fill="none" stroke-width="1.3"/>
<circle cx="198.5" cy="315.05" r="3.2" fill="none" stroke-width="1.3"/>
<circle cx="211.7" cy="302.36" r="3.2" fill="none" stroke-width="1.3"/>
<circle cx="244.7" cy="277.69" r="3.2" fill="none" stroke-width="1.3"/>
<line x1="65.2" y1="225.9" x2="84.2" y2="225.9" stroke-width="1.3"/>
<circle cx="74.6" cy="225.9" r="3.2" fill="none" stroke-width="1.3"/>
<text x="94.4" y="230.26" font-size="11.9">Control</text>
<line x1="65.2" y1="243.9" x2="84.2" y2="243.9" stroke-width="1.3"/>
<polygon points="74.6,247.24 78.12,240.56 71.08,240.56" fill="none" stroke-width="1.3"/>
<text x="94.4" y="248.26" font-size="11.9">F6</text>
<line x1="65.6" y1="261.9" x2="84.6" y2="261.9" stroke-width="1.3"/>
<path d="M71.42 258.85L78.58 264.95M71.42 264.95L78.58 258.85" stroke-width="1.7"/>
<text x="94.8" y="266.26" font-size="11.9">F10</text>
<line x1="65.8" y1="279.8" x2="84.8" y2="279.8" stroke-width="1.3"/>
<polygon points="75.2,276.46 78.72,283.14 71.68,283.14" fill="none" stroke-width="1.3"/>
<text x="95" y="284.16" font-size="11.9">F8</text>
<line x1="66" y1="296.6" x2="85" y2="296.6" stroke-width="1.3"/>
<rect x="72.36" y="293.56" width="6.08" height="6.08" fill="none" stroke-width="1.3"/>
<text x="95" y="300.96" font-size="11.9">F9</text>
<line x1="67.1" y1="313.7" x2="86.1" y2="313.7" stroke-width="1.3"/>
<polygon points="76.5,317.04 80.02,310.36 72.98,310.36" fill="#000" stroke-width="0.6"/>
<text x="95.8" y="318.06" font-size="11.9">F7</text>
<line x1="353.8" y1="235.28" x2="353.8" y2="377.7" stroke-width="1.45"/>
<line x1="353.1" y1="377" x2="546.8" y2="377" stroke-width="1.45"/>
<line x1="349" y1="377" x2="353.8" y2="377" stroke-width="1.45"/>
<text x="346.4" y="380.9" font-size="10.9" text-anchor="end">0</text>
<line x1="351.3" y1="359.36" x2="353.8" y2="359.36" stroke-width="1.45"/>
<line x1="349" y1="341.72" x2="353.8" y2="341.72" stroke-width="1.45"/>
<text x="346.4" y="345.62" font-size="10.9" text-anchor="end">30</text>
<line x1="351.3" y1="324.08" x2="353.8" y2="324.08" stroke-width="1.45"/>
<line x1="349" y1="306.44" x2="353.8" y2="306.44" stroke-width="1.45"/>
<text x="346.4" y="310.34" font-size="10.9" text-anchor="end">60</text>
<line x1="351.3" y1="288.8" x2="353.8" y2="288.8" stroke-width="1.45"/>
<line x1="349" y1="271.16" x2="353.8" y2="271.16" stroke-width="1.45"/>
<text x="346.4" y="275.06" font-size="10.9" text-anchor="end">90</text>
<line x1="351.3" y1="253.52" x2="353.8" y2="253.52" stroke-width="1.45"/>
<line x1="349" y1="235.88" x2="353.8" y2="235.88" stroke-width="1.45"/>
<text x="346.4" y="239.78" font-size="10.9" text-anchor="end">120</text>
<line x1="353.8" y1="377" x2="353.8" y2="382" stroke-width="1.45"/>
<text x="353.8" y="394.7" font-size="10.9" text-anchor="middle">0</text>
<line x1="380.24" y1="377" x2="380.24" y2="382" stroke-width="1.45"/>
<text x="380.24" y="394.7" font-size="10.9" text-anchor="middle">4</text>
<line x1="406.68" y1="377" x2="406.68" y2="382" stroke-width="1.45"/>
<text x="406.68" y="394.7" font-size="10.9" text-anchor="middle">8</text>
<line x1="433.12" y1="377" x2="433.12" y2="382" stroke-width="1.45"/>
<text x="433.12" y="394.7" font-size="10.9" text-anchor="middle">12</text>
<line x1="459.56" y1="377" x2="459.56" y2="382" stroke-width="1.45"/>
<text x="459.56" y="394.7" font-size="10.9" text-anchor="middle">16</text>
<line x1="486" y1="377" x2="486" y2="382" stroke-width="1.45"/>
<text x="486" y="394.7" font-size="10.9" text-anchor="middle">20</text>
<line x1="512.44" y1="377" x2="512.44" y2="382" stroke-width="1.45"/>
<text x="512.44" y="394.7" font-size="10.9" text-anchor="middle">24</text>
<line x1="538.88" y1="377" x2="538.88" y2="382" stroke-width="1.45"/>
<text x="538.88" y="394.7" font-size="10.9" text-anchor="middle">28</text>
<text x="454.5" y="410.9" font-size="14" text-anchor="middle" textLength="32.3" lengthAdjust="spacingAndGlyphs">Days</text>
<text transform="translate(322.9 311.6) rotate(-90)" x="0" y="0" font-size="14" text-anchor="middle" textLength="139" lengthAdjust="spacingAndGlyphs">Initial body weight (%)</text>
<text class="l" transform="translate(309.6 221.4) scale(1.1 1)" x="0" y="0" font-size="19.6">d</text>
<polyline points="353.8,259.4 373.63,262.93 393.46,262.93 419.9,262.93 439.73,264.1 452.95,259.4 486,260.58 499.22,254.7 512.44,258.22 545.49,257.05" fill="none" stroke-width="1.3"/>
<polyline points="353.8,259.4 373.63,261.75 393.46,261.75 419.9,267.63 439.73,264.1 452.95,258.22 486,258.22 499.22,252.34 512.44,255.87 545.49,254.7" fill="none" stroke-width="1.3"/>
<polyline points="353.8,259.4 373.63,262.93 393.46,262.93 419.9,261.75 439.73,266.46 452.95,261.75 486,261.75 499.22,254.7 512.44,262.93 545.49,262.93" fill="none" stroke-width="1.3"/>
<polyline points="353.8,259.4 373.63,261.75 393.46,261.75 419.9,260.58 439.73,264.1 452.95,259.4 486,259.4 499.22,253.52 512.44,257.05 545.49,255.87" fill="none" stroke-width="1.3"/>
<polyline points="353.8,259.4 373.63,261.75 393.46,262.93 419.9,262.93 439.73,265.28 452.95,260.58 486,260.58 499.22,255.87 512.44,261.75 545.49,261.75" fill="none" stroke-width="1.3"/>
<polyline points="353.8,259.4 373.63,260.58 393.46,261.75 419.9,261.75 439.73,264.1 452.95,259.4 486,259.4 499.22,254.7 512.44,259.4 545.49,258.22" fill="none" stroke-width="1.3"/>
<line x1="353.8" y1="258.22" x2="353.8" y2="260.58" stroke-width="1.25"/>
<line x1="350.2" y1="258.22" x2="357.4" y2="258.22" stroke-width="1.25"/>
<line x1="350.2" y1="260.58" x2="357.4" y2="260.58" stroke-width="1.25"/>
<line x1="373.63" y1="260.58" x2="373.63" y2="265.28" stroke-width="1.25"/>
<line x1="370.03" y1="260.58" x2="377.23" y2="260.58" stroke-width="1.25"/>
<line x1="370.03" y1="265.28" x2="377.23" y2="265.28" stroke-width="1.25"/>
<line x1="393.46" y1="260.58" x2="393.46" y2="265.28" stroke-width="1.25"/>
<line x1="389.86" y1="260.58" x2="397.06" y2="260.58" stroke-width="1.25"/>
<line x1="389.86" y1="265.28" x2="397.06" y2="265.28" stroke-width="1.25"/>
<line x1="419.9" y1="258.22" x2="419.9" y2="267.63" stroke-width="1.25"/>
<line x1="416.3" y1="258.22" x2="423.5" y2="258.22" stroke-width="1.25"/>
<line x1="416.3" y1="267.63" x2="423.5" y2="267.63" stroke-width="1.25"/>
<line x1="439.73" y1="260.58" x2="439.73" y2="267.63" stroke-width="1.25"/>
<line x1="436.13" y1="260.58" x2="443.33" y2="260.58" stroke-width="1.25"/>
<line x1="436.13" y1="267.63" x2="443.33" y2="267.63" stroke-width="1.25"/>
<line x1="452.95" y1="255.87" x2="452.95" y2="262.93" stroke-width="1.25"/>
<line x1="449.35" y1="255.87" x2="456.55" y2="255.87" stroke-width="1.25"/>
<line x1="449.35" y1="262.93" x2="456.55" y2="262.93" stroke-width="1.25"/>
<line x1="486" y1="257.05" x2="486" y2="264.1" stroke-width="1.25"/>
<line x1="482.4" y1="257.05" x2="489.6" y2="257.05" stroke-width="1.25"/>
<line x1="482.4" y1="264.1" x2="489.6" y2="264.1" stroke-width="1.25"/>
<line x1="499.22" y1="251.17" x2="499.22" y2="258.22" stroke-width="1.25"/>
<line x1="495.62" y1="251.17" x2="502.82" y2="251.17" stroke-width="1.25"/>
<line x1="495.62" y1="258.22" x2="502.82" y2="258.22" stroke-width="1.25"/>
<line x1="512.44" y1="254.7" x2="512.44" y2="261.75" stroke-width="1.25"/>
<line x1="508.84" y1="254.7" x2="516.04" y2="254.7" stroke-width="1.25"/>
<line x1="508.84" y1="261.75" x2="516.04" y2="261.75" stroke-width="1.25"/>
<line x1="545.49" y1="252.34" x2="545.49" y2="261.75" stroke-width="1.25"/>
<line x1="541.89" y1="252.34" x2="549.09" y2="252.34" stroke-width="1.25"/>
<line x1="541.89" y1="261.75" x2="549.09" y2="261.75" stroke-width="1.25"/>
<line x1="353.8" y1="258.22" x2="353.8" y2="260.58" stroke-width="1.25"/>
<line x1="350.2" y1="258.22" x2="357.4" y2="258.22" stroke-width="1.25"/>
<line x1="350.2" y1="260.58" x2="357.4" y2="260.58" stroke-width="1.25"/>
<line x1="373.63" y1="259.4" x2="373.63" y2="264.1" stroke-width="1.25"/>
<line x1="370.03" y1="259.4" x2="377.23" y2="259.4" stroke-width="1.25"/>
<line x1="370.03" y1="264.1" x2="377.23" y2="264.1" stroke-width="1.25"/>
<line x1="393.46" y1="259.4" x2="393.46" y2="264.1" stroke-width="1.25"/>
<line x1="389.86" y1="259.4" x2="397.06" y2="259.4" stroke-width="1.25"/>
<line x1="389.86" y1="264.1" x2="397.06" y2="264.1" stroke-width="1.25"/>
<line x1="419.9" y1="261.75" x2="419.9" y2="273.51" stroke-width="1.25"/>
<line x1="416.3" y1="261.75" x2="423.5" y2="261.75" stroke-width="1.25"/>
<line x1="416.3" y1="273.51" x2="423.5" y2="273.51" stroke-width="1.25"/>
<line x1="439.73" y1="254.7" x2="439.73" y2="268.81" stroke-width="1.25"/>
<line x1="436.13" y1="254.7" x2="443.33" y2="254.7" stroke-width="1.25"/>
<line x1="436.13" y1="268.81" x2="443.33" y2="268.81" stroke-width="1.25"/>
<line x1="452.95" y1="254.7" x2="452.95" y2="261.75" stroke-width="1.25"/>
<line x1="449.35" y1="254.7" x2="456.55" y2="254.7" stroke-width="1.25"/>
<line x1="449.35" y1="261.75" x2="456.55" y2="261.75" stroke-width="1.25"/>
<line x1="486" y1="252.34" x2="486" y2="264.1" stroke-width="1.25"/>
<line x1="482.4" y1="252.34" x2="489.6" y2="252.34" stroke-width="1.25"/>
<line x1="482.4" y1="264.1" x2="489.6" y2="264.1" stroke-width="1.25"/>
<line x1="499.22" y1="247.64" x2="499.22" y2="262.93" stroke-width="1.25"/>
<line x1="495.62" y1="247.64" x2="502.82" y2="247.64" stroke-width="1.25"/>
<line x1="495.62" y1="262.93" x2="502.82" y2="262.93" stroke-width="1.25"/>
<line x1="512.44" y1="252.34" x2="512.44" y2="259.4" stroke-width="1.25"/>
<line x1="508.84" y1="252.34" x2="516.04" y2="252.34" stroke-width="1.25"/>
<line x1="508.84" y1="259.4" x2="516.04" y2="259.4" stroke-width="1.25"/>
<line x1="545.49" y1="248.82" x2="545.49" y2="260.58" stroke-width="1.25"/>
<line x1="541.89" y1="248.82" x2="549.09" y2="248.82" stroke-width="1.25"/>
<line x1="541.89" y1="260.58" x2="549.09" y2="260.58" stroke-width="1.25"/>
<line x1="353.8" y1="258.22" x2="353.8" y2="260.58" stroke-width="1.25"/>
<line x1="350.2" y1="258.22" x2="357.4" y2="258.22" stroke-width="1.25"/>
<line x1="350.2" y1="260.58" x2="357.4" y2="260.58" stroke-width="1.25"/>
<line x1="373.63" y1="260.58" x2="373.63" y2="265.28" stroke-width="1.25"/>
<line x1="370.03" y1="260.58" x2="377.23" y2="260.58" stroke-width="1.25"/>
<line x1="370.03" y1="265.28" x2="377.23" y2="265.28" stroke-width="1.25"/>
<line x1="393.46" y1="260.58" x2="393.46" y2="265.28" stroke-width="1.25"/>
<line x1="389.86" y1="260.58" x2="397.06" y2="260.58" stroke-width="1.25"/>
<line x1="389.86" y1="265.28" x2="397.06" y2="265.28" stroke-width="1.25"/>
<line x1="419.9" y1="257.05" x2="419.9" y2="266.46" stroke-width="1.25"/>
<line x1="416.3" y1="257.05" x2="423.5" y2="257.05" stroke-width="1.25"/>
<line x1="416.3" y1="266.46" x2="423.5" y2="266.46" stroke-width="1.25"/>
<line x1="439.73" y1="262.93" x2="439.73" y2="269.98" stroke-width="1.25"/>
<line x1="436.13" y1="262.93" x2="443.33" y2="262.93" stroke-width="1.25"/>
<line x1="436.13" y1="269.98" x2="443.33" y2="269.98" stroke-width="1.25"/>
<line x1="452.95" y1="258.22" x2="452.95" y2="265.28" stroke-width="1.25"/>
<line x1="449.35" y1="258.22" x2="456.55" y2="258.22" stroke-width="1.25"/>
<line x1="449.35" y1="265.28" x2="456.55" y2="265.28" stroke-width="1.25"/>
<line x1="486" y1="258.22" x2="486" y2="265.28" stroke-width="1.25"/>
<line x1="482.4" y1="258.22" x2="489.6" y2="258.22" stroke-width="1.25"/>
<line x1="482.4" y1="265.28" x2="489.6" y2="265.28" stroke-width="1.25"/>
<line x1="499.22" y1="251.17" x2="499.22" y2="258.22" stroke-width="1.25"/>
<line x1="495.62" y1="251.17" x2="502.82" y2="251.17" stroke-width="1.25"/>
<line x1="495.62" y1="258.22" x2="502.82" y2="258.22" stroke-width="1.25"/>
<line x1="512.44" y1="250.58" x2="512.44" y2="267.63" stroke-width="1.25"/>
<line x1="508.84" y1="250.58" x2="516.04" y2="250.58" stroke-width="1.25"/>
<line x1="508.84" y1="267.63" x2="516.04" y2="267.63" stroke-width="1.25"/>
<line x1="545.49" y1="246.46" x2="545.49" y2="272.34" stroke-width="1.25"/>
<line x1="541.89" y1="246.46" x2="549.09" y2="246.46" stroke-width="1.25"/>
<line x1="541.89" y1="272.34" x2="549.09" y2="272.34" stroke-width="1.25"/>
<line x1="353.8" y1="258.22" x2="353.8" y2="260.58" stroke-width="1.25"/>
<line x1="350.2" y1="258.22" x2="357.4" y2="258.22" stroke-width="1.25"/>
<line x1="350.2" y1="260.58" x2="357.4" y2="260.58" stroke-width="1.25"/>
<line x1="373.63" y1="259.4" x2="373.63" y2="264.1" stroke-width="1.25"/>
<line x1="370.03" y1="259.4" x2="377.23" y2="259.4" stroke-width="1.25"/>
<line x1="370.03" y1="264.1" x2="377.23" y2="264.1" stroke-width="1.25"/>
<line x1="393.46" y1="259.4" x2="393.46" y2="264.1" stroke-width="1.25"/>
<line x1="389.86" y1="259.4" x2="397.06" y2="259.4" stroke-width="1.25"/>
<line x1="389.86" y1="264.1" x2="397.06" y2="264.1" stroke-width="1.25"/>
<line x1="419.9" y1="255.87" x2="419.9" y2="265.28" stroke-width="1.25"/>
<line x1="416.3" y1="255.87" x2="423.5" y2="255.87" stroke-width="1.25"/>
<line x1="416.3" y1="265.28" x2="423.5" y2="265.28" stroke-width="1.25"/>
<line x1="439.73" y1="260.58" x2="439.73" y2="267.63" stroke-width="1.25"/>
<line x1="436.13" y1="260.58" x2="443.33" y2="260.58" stroke-width="1.25"/>
<line x1="436.13" y1="267.63" x2="443.33" y2="267.63" stroke-width="1.25"/>
<line x1="452.95" y1="255.87" x2="452.95" y2="262.93" stroke-width="1.25"/>
<line x1="449.35" y1="255.87" x2="456.55" y2="255.87" stroke-width="1.25"/>
<line x1="449.35" y1="262.93" x2="456.55" y2="262.93" stroke-width="1.25"/>
<line x1="486" y1="255.87" x2="486" y2="262.93" stroke-width="1.25"/>
<line x1="482.4" y1="255.87" x2="489.6" y2="255.87" stroke-width="1.25"/>
<line x1="482.4" y1="262.93" x2="489.6" y2="262.93" stroke-width="1.25"/>
<line x1="499.22" y1="249.99" x2="499.22" y2="257.05" stroke-width="1.25"/>
<line x1="495.62" y1="249.99" x2="502.82" y2="249.99" stroke-width="1.25"/>
<line x1="495.62" y1="257.05" x2="502.82" y2="257.05" stroke-width="1.25"/>
<line x1="512.44" y1="253.52" x2="512.44" y2="260.58" stroke-width="1.25"/>
<line x1="508.84" y1="253.52" x2="516.04" y2="253.52" stroke-width="1.25"/>
<line x1="508.84" y1="260.58" x2="516.04" y2="260.58" stroke-width="1.25"/>
<line x1="545.49" y1="251.17" x2="545.49" y2="260.58" stroke-width="1.25"/>
<line x1="541.89" y1="251.17" x2="549.09" y2="251.17" stroke-width="1.25"/>
<line x1="541.89" y1="260.58" x2="549.09" y2="260.58" stroke-width="1.25"/>
<line x1="353.8" y1="258.22" x2="353.8" y2="260.58" stroke-width="1.25"/>
<line x1="350.2" y1="258.22" x2="357.4" y2="258.22" stroke-width="1.25"/>
<line x1="350.2" y1="260.58" x2="357.4" y2="260.58" stroke-width="1.25"/>
<line x1="373.63" y1="259.4" x2="373.63" y2="264.1" stroke-width="1.25"/>
<line x1="370.03" y1="259.4" x2="377.23" y2="259.4" stroke-width="1.25"/>
<line x1="370.03" y1="264.1" x2="377.23" y2="264.1" stroke-width="1.25"/>
<line x1="393.46" y1="260.58" x2="393.46" y2="265.28" stroke-width="1.25"/>
<line x1="389.86" y1="260.58" x2="397.06" y2="260.58" stroke-width="1.25"/>
<line x1="389.86" y1="265.28" x2="397.06" y2="265.28" stroke-width="1.25"/>
<line x1="419.9" y1="258.22" x2="419.9" y2="267.63" stroke-width="1.25"/>
<line x1="416.3" y1="258.22" x2="423.5" y2="258.22" stroke-width="1.25"/>
<line x1="416.3" y1="267.63" x2="423.5" y2="267.63" stroke-width="1.25"/>
<line x1="439.73" y1="261.75" x2="439.73" y2="268.81" stroke-width="1.25"/>
<line x1="436.13" y1="261.75" x2="443.33" y2="261.75" stroke-width="1.25"/>
<line x1="436.13" y1="268.81" x2="443.33" y2="268.81" stroke-width="1.25"/>
<line x1="452.95" y1="257.05" x2="452.95" y2="264.1" stroke-width="1.25"/>
<line x1="449.35" y1="257.05" x2="456.55" y2="257.05" stroke-width="1.25"/>
<line x1="449.35" y1="264.1" x2="456.55" y2="264.1" stroke-width="1.25"/>
<line x1="486" y1="249.29" x2="486" y2="268.81" stroke-width="1.25"/>
<line x1="482.4" y1="249.29" x2="489.6" y2="249.29" stroke-width="1.25"/>
<line x1="482.4" y1="268.81" x2="489.6" y2="268.81" stroke-width="1.25"/>
<line x1="499.22" y1="252.34" x2="499.22" y2="259.4" stroke-width="1.25"/>
<line x1="495.62" y1="252.34" x2="502.82" y2="252.34" stroke-width="1.25"/>
<line x1="495.62" y1="259.4" x2="502.82" y2="259.4" stroke-width="1.25"/>
<line x1="512.44" y1="258.22" x2="512.44" y2="265.28" stroke-width="1.25"/>
<line x1="508.84" y1="258.22" x2="516.04" y2="258.22" stroke-width="1.25"/>
<line x1="508.84" y1="265.28" x2="516.04" y2="265.28" stroke-width="1.25"/>
<line x1="545.49" y1="257.05" x2="545.49" y2="266.46" stroke-width="1.25"/>
<line x1="541.89" y1="257.05" x2="549.09" y2="257.05" stroke-width="1.25"/>
<line x1="541.89" y1="266.46" x2="549.09" y2="266.46" stroke-width="1.25"/>
<line x1="353.8" y1="258.22" x2="353.8" y2="260.58" stroke-width="1.25"/>
<line x1="350.2" y1="258.22" x2="357.4" y2="258.22" stroke-width="1.25"/>
<line x1="350.2" y1="260.58" x2="357.4" y2="260.58" stroke-width="1.25"/>
<line x1="373.63" y1="258.22" x2="373.63" y2="262.93" stroke-width="1.25"/>
<line x1="370.03" y1="258.22" x2="377.23" y2="258.22" stroke-width="1.25"/>
<line x1="370.03" y1="262.93" x2="377.23" y2="262.93" stroke-width="1.25"/>
<line x1="393.46" y1="259.4" x2="393.46" y2="264.1" stroke-width="1.25"/>
<line x1="389.86" y1="259.4" x2="397.06" y2="259.4" stroke-width="1.25"/>
<line x1="389.86" y1="264.1" x2="397.06" y2="264.1" stroke-width="1.25"/>
<line x1="419.9" y1="257.05" x2="419.9" y2="266.46" stroke-width="1.25"/>
<line x1="416.3" y1="257.05" x2="423.5" y2="257.05" stroke-width="1.25"/>
<line x1="416.3" y1="266.46" x2="423.5" y2="266.46" stroke-width="1.25"/>
<line x1="439.73" y1="260.58" x2="439.73" y2="267.63" stroke-width="1.25"/>
<line x1="436.13" y1="260.58" x2="443.33" y2="260.58" stroke-width="1.25"/>
<line x1="436.13" y1="267.63" x2="443.33" y2="267.63" stroke-width="1.25"/>
<line x1="452.95" y1="251.17" x2="452.95" y2="264.1" stroke-width="1.25"/>
<line x1="449.35" y1="251.17" x2="456.55" y2="251.17" stroke-width="1.25"/>
<line x1="449.35" y1="264.1" x2="456.55" y2="264.1" stroke-width="1.25"/>
<line x1="486" y1="255.87" x2="486" y2="262.93" stroke-width="1.25"/>
<line x1="482.4" y1="255.87" x2="489.6" y2="255.87" stroke-width="1.25"/>
<line x1="482.4" y1="262.93" x2="489.6" y2="262.93" stroke-width="1.25"/>
<line x1="499.22" y1="251.17" x2="499.22" y2="258.22" stroke-width="1.25"/>
<line x1="495.62" y1="251.17" x2="502.82" y2="251.17" stroke-width="1.25"/>
<line x1="495.62" y1="258.22" x2="502.82" y2="258.22" stroke-width="1.25"/>
<line x1="512.44" y1="255.87" x2="512.44" y2="262.93" stroke-width="1.25"/>
<line x1="508.84" y1="255.87" x2="516.04" y2="255.87" stroke-width="1.25"/>
<line x1="508.84" y1="262.93" x2="516.04" y2="262.93" stroke-width="1.25"/>
<line x1="545.49" y1="253.52" x2="545.49" y2="262.93" stroke-width="1.25"/>
<line x1="541.89" y1="253.52" x2="549.09" y2="253.52" stroke-width="1.25"/>
<line x1="541.89" y1="262.93" x2="549.09" y2="262.93" stroke-width="1.25"/>
<polygon points="353.8,262.74 357.32,256.06 350.28,256.06" fill="#000" stroke-width="0.6"/>
<polygon points="373.63,266.27 377.15,259.58 370.11,259.58" fill="#000" stroke-width="0.6"/>
<polygon points="393.46,266.27 396.98,259.58 389.94,259.58" fill="#000" stroke-width="0.6"/>
<polygon points="419.9,266.27 423.42,259.58 416.38,259.58" fill="#000" stroke-width="0.6"/>
<polygon points="439.73,267.45 443.25,260.76 436.21,260.76" fill="#000" stroke-width="0.6"/>
<polygon points="452.95,262.74 456.47,256.06 449.43,256.06" fill="#000" stroke-width="0.6"/>
<polygon points="486,263.92 489.52,257.23 482.48,257.23" fill="#000" stroke-width="0.6"/>
<polygon points="499.22,258.04 502.74,251.35 495.7,251.35" fill="#000" stroke-width="0.6"/>
<polygon points="512.44,261.57 515.96,254.88 508.92,254.88" fill="#000" stroke-width="0.6"/>
<polygon points="545.49,260.39 549.01,253.7 541.97,253.7" fill="#000" stroke-width="0.6"/>
<rect x="350.76" y="256.36" width="6.08" height="6.08" fill="none" stroke-width="1.3"/>
<rect x="370.59" y="258.71" width="6.08" height="6.08" fill="none" stroke-width="1.3"/>
<rect x="390.42" y="258.71" width="6.08" height="6.08" fill="none" stroke-width="1.3"/>
<rect x="416.86" y="264.59" width="6.08" height="6.08" fill="none" stroke-width="1.3"/>
<rect x="436.69" y="261.06" width="6.08" height="6.08" fill="none" stroke-width="1.3"/>
<rect x="449.91" y="255.18" width="6.08" height="6.08" fill="none" stroke-width="1.3"/>
<rect x="482.96" y="255.18" width="6.08" height="6.08" fill="none" stroke-width="1.3"/>
<rect x="496.18" y="249.3" width="6.08" height="6.08" fill="none" stroke-width="1.3"/>
<rect x="509.4" y="252.83" width="6.08" height="6.08" fill="none" stroke-width="1.3"/>
<rect x="542.45" y="251.66" width="6.08" height="6.08" fill="none" stroke-width="1.3"/>
<polygon points="353.8,256.06 357.32,262.74 350.28,262.74" fill="none" stroke-width="1.3"/>
<polygon points="373.63,259.58 377.15,266.27 370.11,266.27" fill="none" stroke-width="1.3"/>
<polygon points="393.46,259.58 396.98,266.27 389.94,266.27" fill="none" stroke-width="1.3"/>
<polygon points="419.9,258.41 423.42,265.1 416.38,265.1" fill="none" stroke-width="1.3"/>
<polygon points="439.73,263.11 443.25,269.8 436.21,269.8" fill="none" stroke-width="1.3"/>
<polygon points="452.95,258.41 456.47,265.1 449.43,265.1" fill="none" stroke-width="1.3"/>
<polygon points="486,258.41 489.52,265.1 482.48,265.1" fill="none" stroke-width="1.3"/>
<polygon points="499.22,251.35 502.74,258.04 495.7,258.04" fill="none" stroke-width="1.3"/>
<polygon points="512.44,259.58 515.96,266.27 508.92,266.27" fill="none" stroke-width="1.3"/>
<polygon points="545.49,259.58 549.01,266.27 541.97,266.27" fill="none" stroke-width="1.3"/>
<path d="M350.22 256.35L357.38 262.45M350.22 262.45L357.38 256.35" stroke-width="1.7"/>
<path d="M370.05 258.71L377.21 264.8M370.05 264.8L377.21 258.71" stroke-width="1.7"/>
<path d="M389.88 258.71L397.04 264.8M389.88 264.8L397.04 258.71" stroke-width="1.7"/>
<path d="M416.32 257.53L423.48 263.62M416.32 263.62L423.48 257.53" stroke-width="1.7"/>
<path d="M436.15 261.06L443.31 267.15M436.15 267.15L443.31 261.06" stroke-width="1.7"/>
<path d="M449.37 256.35L456.53 262.45M449.37 262.45L456.53 256.35" stroke-width="1.7"/>
<path d="M482.42 256.35L489.58 262.45M482.42 262.45L489.58 256.35" stroke-width="1.7"/>
<path d="M495.64 250.47L502.8 256.57M495.64 256.57L502.8 250.47" stroke-width="1.7"/>
<path d="M508.86 254L516.02 260.09M508.86 260.09L516.02 254" stroke-width="1.7"/>
<path d="M541.91 252.83L549.07 258.92M541.91 258.92L549.07 252.83" stroke-width="1.7"/>
<polygon points="353.8,262.74 357.32,256.06 350.28,256.06" fill="none" stroke-width="1.3"/>
<polygon points="373.63,265.1 377.15,258.41 370.11,258.41" fill="none" stroke-width="1.3"/>
<polygon points="393.46,266.27 396.98,259.58 389.94,259.58" fill="none" stroke-width="1.3"/>
<polygon points="419.9,266.27 423.42,259.58 416.38,259.58" fill="none" stroke-width="1.3"/>
<polygon points="439.73,268.62 443.25,261.94 436.21,261.94" fill="none" stroke-width="1.3"/>
<polygon points="452.95,263.92 456.47,257.23 449.43,257.23" fill="none" stroke-width="1.3"/>
<polygon points="486,263.92 489.52,257.23 482.48,257.23" fill="none" stroke-width="1.3"/>
<polygon points="499.22,259.22 502.74,252.53 495.7,252.53" fill="none" stroke-width="1.3"/>
<polygon points="512.44,265.1 515.96,258.41 508.92,258.41" fill="none" stroke-width="1.3"/>
<polygon points="545.49,265.1 549.01,258.41 541.97,258.41" fill="none" stroke-width="1.3"/>
<circle cx="353.8" cy="259.4" r="3.2" fill="none" stroke-width="1.3"/>
<circle cx="373.63" cy="260.58" r="3.2" fill="none" stroke-width="1.3"/>
<circle cx="393.46" cy="261.75" r="3.2" fill="none" stroke-width="1.3"/>
<circle cx="419.9" cy="261.75" r="3.2" fill="none" stroke-width="1.3"/>
<circle cx="439.73" cy="264.1" r="3.2" fill="none" stroke-width="1.3"/>
<circle cx="452.95" cy="259.4" r="3.2" fill="none" stroke-width="1.3"/>
<circle cx="486" cy="259.4" r="3.2" fill="none" stroke-width="1.3"/>
<circle cx="499.22" cy="254.7" r="3.2" fill="none" stroke-width="1.3"/>
<circle cx="512.44" cy="259.4" r="3.2" fill="none" stroke-width="1.3"/>
<circle cx="545.49" cy="258.22" r="3.2" fill="none" stroke-width="1.3"/>
<line x1="376.5" y1="290.5" x2="394.6" y2="290.5" stroke-width="1.3"/>
<circle cx="385.5" cy="290.5" r="3.2" fill="none" stroke-width="1.3"/>
<text x="405.3" y="294.86" font-size="11.9">Control</text>
<line x1="376.5" y1="305.6" x2="394.6" y2="305.6" stroke-width="1.3"/>
<polygon points="385.5,308.94 389.02,302.26 381.98,302.26" fill="none" stroke-width="1.3"/>
<text x="405.3" y="309.96" font-size="11.9">F6</text>
<line x1="376.5" y1="322.1" x2="394.6" y2="322.1" stroke-width="1.3"/>
<path d="M381.92 319.05L389.08 325.15M381.92 325.15L389.08 319.05" stroke-width="1.7"/>
<text x="405.3" y="326.46" font-size="11.9">F10</text>
<line x1="376.5" y1="337" x2="394.6" y2="337" stroke-width="1.3"/>
<polygon points="385.5,333.66 389.02,340.34 381.98,340.34" fill="none" stroke-width="1.3"/>
<text x="405.3" y="341.36" font-size="11.9">F8</text>
<line x1="376.5" y1="351.7" x2="394.6" y2="351.7" stroke-width="1.3"/>
<rect x="382.46" y="348.66" width="6.08" height="6.08" fill="none" stroke-width="1.3"/>
<text x="405.3" y="356.06" font-size="11.9">F9</text>
<line x1="376.5" y1="367.4" x2="394.6" y2="367.4" stroke-width="1.3"/>
<polygon points="385.5,370.74 389.02,364.06 381.98,364.06" fill="#000" stroke-width="0.6"/>
<text x="405.3" y="371.76" font-size="11.9">F7</text>
<line x1="47.12" y1="435.8" x2="47.12" y2="578.2" stroke-width="1.45"/>
<line x1="46.42" y1="577.5" x2="229.9" y2="577.5" stroke-width="1.45"/>
<line x1="43.52" y1="577.5" x2="47.12" y2="577.5" stroke-width="1.45"/>
<text x="40.9" y="581.4" font-size="10.9" text-anchor="end">0</text>
<line x1="43.52" y1="555.7" x2="47.12" y2="555.7" stroke-width="1.45"/>
<text x="40.9" y="559.6" font-size="10.9" text-anchor="end">20</text>
<line x1="43.52" y1="533.9" x2="47.12" y2="533.9" stroke-width="1.45"/>
<text x="40.9" y="537.8" font-size="10.9" text-anchor="end">40</text>
<line x1="43.52" y1="512.1" x2="47.12" y2="512.1" stroke-width="1.45"/>
<text x="40.9" y="516" font-size="10.9" text-anchor="end">60</text>
<line x1="43.52" y1="490.3" x2="47.12" y2="490.3" stroke-width="1.45"/>
<text x="40.9" y="494.2" font-size="10.9" text-anchor="end">80</text>
<line x1="43.52" y1="468.5" x2="47.12" y2="468.5" stroke-width="1.45"/>
<text x="40.9" y="472.4" font-size="10.9" text-anchor="end">100</text>
<line x1="43.52" y1="446.7" x2="47.12" y2="446.7" stroke-width="1.45"/>
<text x="40.9" y="450.6" font-size="10.9" text-anchor="end">120</text>
<line x1="59.01" y1="577.5" x2="59.01" y2="581.7" stroke-width="1.45"/>
<line x1="67.44" y1="577.5" x2="67.44" y2="581.7" stroke-width="1.45"/>
<line x1="73.98" y1="577.5" x2="73.98" y2="581.7" stroke-width="1.45"/>
<line x1="79.33" y1="577.5" x2="79.33" y2="581.7" stroke-width="1.45"/>
<line x1="83.84" y1="577.5" x2="83.84" y2="581.7" stroke-width="1.45"/>
<line x1="87.76" y1="577.5" x2="87.76" y2="581.7" stroke-width="1.45"/>
<line x1="91.21" y1="577.5" x2="91.21" y2="581.7" stroke-width="1.45"/>
<line x1="114.62" y1="577.5" x2="114.62" y2="581.7" stroke-width="1.45"/>
<line x1="126.51" y1="577.5" x2="126.51" y2="581.7" stroke-width="1.45"/>
<line x1="134.94" y1="577.5" x2="134.94" y2="581.7" stroke-width="1.45"/>
<line x1="141.48" y1="577.5" x2="141.48" y2="581.7" stroke-width="1.45"/>
<line x1="146.83" y1="577.5" x2="146.83" y2="581.7" stroke-width="1.45"/>
<line x1="151.34" y1="577.5" x2="151.34" y2="581.7" stroke-width="1.45"/>
<line x1="155.26" y1="577.5" x2="155.26" y2="581.7" stroke-width="1.45"/>
<line x1="158.71" y1="577.5" x2="158.71" y2="581.7" stroke-width="1.45"/>
<line x1="182.12" y1="577.5" x2="182.12" y2="581.7" stroke-width="1.45"/>
<line x1="194.01" y1="577.5" x2="194.01" y2="581.7" stroke-width="1.45"/>
<line x1="202.44" y1="577.5" x2="202.44" y2="581.7" stroke-width="1.45"/>
<line x1="208.98" y1="577.5" x2="208.98" y2="581.7" stroke-width="1.45"/>
<line x1="214.33" y1="577.5" x2="214.33" y2="581.7" stroke-width="1.45"/>
<line x1="218.84" y1="577.5" x2="218.84" y2="581.7" stroke-width="1.45"/>
<line x1="222.76" y1="577.5" x2="222.76" y2="581.7" stroke-width="1.45"/>
<line x1="226.21" y1="577.5" x2="226.21" y2="581.7" stroke-width="1.45"/>
<line x1="94.3" y1="577.5" x2="94.3" y2="584.5" stroke-width="1.45"/>
<text x="94.3" y="598.2" font-size="10.9" text-anchor="middle">0.1</text>
<line x1="161.8" y1="577.5" x2="161.8" y2="584.5" stroke-width="1.45"/>
<text x="161.8" y="598.2" font-size="10.9" text-anchor="middle">1</text>
<line x1="229.3" y1="577.5" x2="229.3" y2="584.5" stroke-width="1.45"/>
<text x="229.3" y="598.2" font-size="10.9" text-anchor="middle">10</text>
<text x="92" y="613.6" font-size="14" textLength="108" lengthAdjust="spacingAndGlyphs">HQGGT (mg/mL)</text>
<text transform="translate(13.3 507.8) rotate(-90)" x="0" y="0" font-size="14" text-anchor="middle" textLength="101" lengthAdjust="spacingAndGlyphs">Cell viability (%)</text>
<text class="l" transform="translate(0.3 435.6) scale(1.1 1)" x="0" y="0" font-size="19.6">e</text>
<polyline points="47.12,468.5 121.16,503.38 141.48,521.91 161.8,558.97 182.12,572.05 194.01,574.23 202.44,574.23" fill="none" stroke-width="1.3"/>
<polyline points="47.12,468.5 121.16,483.76 141.48,490.3 161.8,530.63 173.69,554.61 182.12,566.6 194.01,566.6 202.44,566.6" fill="none" stroke-width="1.3"/>
<polyline points="47.12,468.5 121.16,484.85 141.48,496.84 161.8,501.2 182.12,539.35 194.01,566.6 202.44,568.78" fill="none" stroke-width="1.3"/>
<polyline points="47.12,468.5 121.16,490.3 141.48,484.85 161.8,500.11 182.12,572.05 194.01,568.78 202.44,568.78" fill="none" stroke-width="1.3"/>
<polyline points="47.12,468.5 59.01,468.5 141.48,455.42 161.8,475.04 173.69,508.83 182.12,558.97 194.01,568.78 202.44,572.05" fill="none" stroke-width="1.3"/>
<line x1="141.48" y1="516.46" x2="141.48" y2="527.36" stroke-width="1.25"/>
<line x1="137.88" y1="516.46" x2="145.08" y2="516.46" stroke-width="1.25"/>
<line x1="137.88" y1="527.36" x2="145.08" y2="527.36" stroke-width="1.25"/>
<line x1="161.8" y1="551.34" x2="161.8" y2="566.6" stroke-width="1.25"/>
<line x1="158.2" y1="551.34" x2="165.4" y2="551.34" stroke-width="1.25"/>
<line x1="158.2" y1="566.6" x2="165.4" y2="566.6" stroke-width="1.25"/>
<line x1="121.16" y1="480.49" x2="121.16" y2="487.03" stroke-width="1.25"/>
<line x1="117.56" y1="480.49" x2="124.76" y2="480.49" stroke-width="1.25"/>
<line x1="117.56" y1="487.03" x2="124.76" y2="487.03" stroke-width="1.25"/>
<line x1="141.48" y1="481.58" x2="141.48" y2="499.02" stroke-width="1.25"/>
<line x1="137.88" y1="481.58" x2="145.08" y2="481.58" stroke-width="1.25"/>
<line x1="137.88" y1="499.02" x2="145.08" y2="499.02" stroke-width="1.25"/>
<line x1="161.8" y1="508.83" x2="161.8" y2="552.43" stroke-width="1.25"/>
<line x1="158.2" y1="508.83" x2="165.4" y2="508.83" stroke-width="1.25"/>
<line x1="158.2" y1="552.43" x2="165.4" y2="552.43" stroke-width="1.25"/>
<line x1="173.69" y1="545.89" x2="173.69" y2="563.33" stroke-width="1.25"/>
<line x1="170.09" y1="545.89" x2="177.29" y2="545.89" stroke-width="1.25"/>
<line x1="170.09" y1="563.33" x2="177.29" y2="563.33" stroke-width="1.25"/>
<line x1="182.12" y1="561.15" x2="182.12" y2="572.05" stroke-width="1.25"/>
<line x1="178.52" y1="561.15" x2="185.72" y2="561.15" stroke-width="1.25"/>
<line x1="178.52" y1="572.05" x2="185.72" y2="572.05" stroke-width="1.25"/>
<line x1="194.01" y1="562.24" x2="194.01" y2="570.96" stroke-width="1.25"/>
<line x1="190.41" y1="562.24" x2="197.61" y2="562.24" stroke-width="1.25"/>
<line x1="190.41" y1="570.96" x2="197.61" y2="570.96" stroke-width="1.25"/>
<line x1="202.44" y1="562.24" x2="202.44" y2="570.96" stroke-width="1.25"/>
<line x1="198.84" y1="562.24" x2="206.04" y2="562.24" stroke-width="1.25"/>
<line x1="198.84" y1="570.96" x2="206.04" y2="570.96" stroke-width="1.25"/>
<line x1="121.16" y1="481.58" x2="121.16" y2="488.12" stroke-width="1.25"/>
<line x1="117.56" y1="481.58" x2="124.76" y2="481.58" stroke-width="1.25"/>
<line x1="117.56" y1="488.12" x2="124.76" y2="488.12" stroke-width="1.25"/>
<line x1="141.48" y1="491.39" x2="141.48" y2="502.29" stroke-width="1.25"/>
<line x1="137.88" y1="491.39" x2="145.08" y2="491.39" stroke-width="1.25"/>
<line x1="137.88" y1="502.29" x2="145.08" y2="502.29" stroke-width="1.25"/>
<line x1="161.8" y1="479.4" x2="161.8" y2="523" stroke-width="1.25"/>
<line x1="158.2" y1="479.4" x2="165.4" y2="479.4" stroke-width="1.25"/>
<line x1="158.2" y1="523" x2="165.4" y2="523" stroke-width="1.25"/>
<line x1="182.12" y1="523" x2="182.12" y2="555.7" stroke-width="1.25"/>
<line x1="178.52" y1="523" x2="185.72" y2="523" stroke-width="1.25"/>
<line x1="178.52" y1="555.7" x2="185.72" y2="555.7" stroke-width="1.25"/>
<line x1="194.01" y1="555.7" x2="194.01" y2="573.14" stroke-width="1.25"/>
<line x1="190.41" y1="555.7" x2="197.61" y2="555.7" stroke-width="1.25"/>
<line x1="190.41" y1="573.14" x2="197.61" y2="573.14" stroke-width="1.25"/>
<line x1="202.44" y1="554.61" x2="202.44" y2="574.23" stroke-width="1.25"/>
<line x1="198.84" y1="554.61" x2="206.04" y2="554.61" stroke-width="1.25"/>
<line x1="198.84" y1="574.23" x2="206.04" y2="574.23" stroke-width="1.25"/>
<line x1="121.16" y1="487.03" x2="121.16" y2="493.57" stroke-width="1.25"/>
<line x1="117.56" y1="487.03" x2="124.76" y2="487.03" stroke-width="1.25"/>
<line x1="117.56" y1="493.57" x2="124.76" y2="493.57" stroke-width="1.25"/>
<line x1="141.48" y1="479.4" x2="141.48" y2="490.3" stroke-width="1.25"/>
<line x1="137.88" y1="479.4" x2="145.08" y2="479.4" stroke-width="1.25"/>
<line x1="137.88" y1="490.3" x2="145.08" y2="490.3" stroke-width="1.25"/>
<line x1="161.8" y1="489.21" x2="161.8" y2="511.01" stroke-width="1.25"/>
<line x1="158.2" y1="489.21" x2="165.4" y2="489.21" stroke-width="1.25"/>
<line x1="158.2" y1="511.01" x2="165.4" y2="511.01" stroke-width="1.25"/>
<line x1="194.01" y1="553.52" x2="194.01" y2="568.78" stroke-width="1.25"/>
<line x1="190.41" y1="553.52" x2="197.61" y2="553.52" stroke-width="1.25"/>
<line x1="190.41" y1="568.78" x2="197.61" y2="568.78" stroke-width="1.25"/>
<line x1="202.44" y1="553.52" x2="202.44" y2="568.78" stroke-width="1.25"/>
<line x1="198.84" y1="553.52" x2="206.04" y2="553.52" stroke-width="1.25"/>
<line x1="198.84" y1="568.78" x2="206.04" y2="568.78" stroke-width="1.25"/>
<line x1="141.48" y1="447.79" x2="141.48" y2="463.05" stroke-width="1.25"/>
<line x1="137.88" y1="447.79" x2="145.08" y2="447.79" stroke-width="1.25"/>
<line x1="137.88" y1="463.05" x2="145.08" y2="463.05" stroke-width="1.25"/>
<line x1="161.8" y1="463.05" x2="161.8" y2="487.03" stroke-width="1.25"/>
<line x1="158.2" y1="463.05" x2="165.4" y2="463.05" stroke-width="1.25"/>
<line x1="158.2" y1="487.03" x2="165.4" y2="487.03" stroke-width="1.25"/>
<line x1="173.69" y1="492.48" x2="173.69" y2="525.18" stroke-width="1.25"/>
<line x1="170.09" y1="492.48" x2="177.29" y2="492.48" stroke-width="1.25"/>
<line x1="170.09" y1="525.18" x2="177.29" y2="525.18" stroke-width="1.25"/>
<polygon points="47.12,471.84 50.64,465.16 43.6,465.16" fill="none" stroke-width="1.3"/>
<polygon points="121.16,506.72 124.68,500.04 117.64,500.04" fill="none" stroke-width="1.3"/>
<polygon points="141.48,525.25 145,518.57 137.96,518.57" fill="none" stroke-width="1.3"/>
<polygon points="161.8,562.31 165.32,555.63 158.28,555.63" fill="none" stroke-width="1.3"/>
<polygon points="182.12,575.39 185.64,568.71 178.6,568.71" fill="none" stroke-width="1.3"/>
<polygon points="194.01,577.57 197.53,570.89 190.49,570.89" fill="none" stroke-width="1.3"/>
<polygon points="202.44,577.57 205.96,570.89 198.92,570.89" fill="none" stroke-width="1.3"/>
<rect x="44.08" y="465.46" width="6.08" height="6.08" fill="none" stroke-width="1.3"/>
<rect x="118.12" y="480.72" width="6.08" height="6.08" fill="none" stroke-width="1.3"/>
<rect x="138.44" y="487.26" width="6.08" height="6.08" fill="none" stroke-width="1.3"/>
<rect x="158.76" y="527.59" width="6.08" height="6.08" fill="none" stroke-width="1.3"/>
<rect x="170.65" y="551.57" width="6.08" height="6.08" fill="none" stroke-width="1.3"/>
<rect x="179.08" y="563.56" width="6.08" height="6.08" fill="none" stroke-width="1.3"/>
<rect x="190.97" y="563.56" width="6.08" height="6.08" fill="none" stroke-width="1.3"/>
<rect x="199.4" y="563.56" width="6.08" height="6.08" fill="none" stroke-width="1.3"/>
<circle cx="47.12" cy="468.5" r="3.2" fill="none" stroke-width="1.3"/>
<circle cx="121.16" cy="484.85" r="3.2" fill="none" stroke-width="1.3"/>
<circle cx="141.48" cy="496.84" r="3.2" fill="none" stroke-width="1.3"/>
<circle cx="161.8" cy="501.2" r="3.2" fill="none" stroke-width="1.3"/>
<circle cx="182.12" cy="539.35" r="3.2" fill="none" stroke-width="1.3"/>
<circle cx="194.01" cy="566.6" r="3.2" fill="none" stroke-width="1.3"/>
<circle cx="202.44" cy="568.78" r="3.2" fill="none" stroke-width="1.3"/>
<polygon points="47.12,465.16 50.64,471.84 43.6,471.84" fill="#000" stroke-width="0.6"/>
<polygon points="121.16,486.96 124.68,493.64 117.64,493.64" fill="#000" stroke-width="0.6"/>
<polygon points="141.48,481.51 145,488.19 137.96,488.19" fill="#000" stroke-width="0.6"/>
<polygon points="161.8,496.77 165.32,503.45 158.28,503.45" fill="#000" stroke-width="0.6"/>
<polygon points="182.12,568.71 185.64,575.39 178.6,575.39" fill="#000" stroke-width="0.6"/>
<polygon points="194.01,565.44 197.53,572.12 190.49,572.12" fill="#000" stroke-width="0.6"/>
<polygon points="202.44,565.44 205.96,572.12 198.92,572.12" fill="#000" stroke-width="0.6"/>
<circle cx="47.12" cy="468.5" r="3.46" fill="#000" stroke="none"/>
<circle cx="59.01" cy="468.5" r="3.46" fill="#000" stroke="none"/>
<circle cx="141.48" cy="455.42" r="3.46" fill="#000" stroke="none"/>
<circle cx="161.8" cy="475.04" r="3.46" fill="#000" stroke="none"/>
<circle cx="173.69" cy="508.83" r="3.46" fill="#000" stroke="none"/>
<circle cx="182.12" cy="558.97" r="3.46" fill="#000" stroke="none"/>
<circle cx="194.01" cy="568.78" r="3.46" fill="#000" stroke="none"/>
<circle cx="202.44" cy="572.05" r="3.46" fill="#000" stroke="none"/>
<line x1="195.4" y1="448.1" x2="213.4" y2="448.1" stroke-width="1.3"/>
<circle cx="204.3" cy="448.1" r="3.46" fill="#000" stroke="none"/>
<text x="222.6" y="452.26" font-size="11.35">HT29</text>
<line x1="195.4" y1="467.6" x2="213.4" y2="467.6" stroke-width="1.3"/>
<polygon points="204.3,464.26 207.82,470.94 200.78,470.94" fill="#000" stroke-width="0.6"/>
<text x="222.6" y="471.76" font-size="11.35">H630</text>
<line x1="195.4" y1="485.5" x2="213.4" y2="485.5" stroke-width="1.3"/>
<circle cx="204.3" cy="485.5" r="3.2" fill="none" stroke-width="1.3"/>
<text x="222.6" y="489.66" font-size="11.35">H630R1</text>
<line x1="195.4" y1="502.4" x2="213.4" y2="502.4" stroke-width="1.3"/>
<rect x="201.26" y="499.36" width="6.08" height="6.08" fill="none" stroke-width="1.3"/>
<text x="222.6" y="506.56" font-size="11.35">HCT116</text>
<line x1="195.4" y1="519.3" x2="213.4" y2="519.3" stroke-width="1.3"/>
<polygon points="204.3,522.64 207.82,515.96 200.78,515.96" fill="none" stroke-width="1.3"/>
<text x="222.6" y="523.46" font-size="11.35">HCT116 p53-/-</text>
<line x1="355.38" y1="435.71" x2="355.38" y2="577.2" stroke-width="1.45"/>
<line x1="354.68" y1="576.5" x2="548.8" y2="576.5" stroke-width="1.45"/>
<line x1="351.78" y1="576.5" x2="355.38" y2="576.5" stroke-width="1.45"/>
<text x="347.8" y="580.4" font-size="10.9" text-anchor="end">0</text>
<line x1="351.78" y1="554.84" x2="355.38" y2="554.84" stroke-width="1.45"/>
<text x="347.8" y="558.74" font-size="10.9" text-anchor="end">20</text>
<line x1="351.78" y1="533.18" x2="355.38" y2="533.18" stroke-width="1.45"/>
<text x="347.8" y="537.08" font-size="10.9" text-anchor="end">40</text>
<line x1="351.78" y1="511.52" x2="355.38" y2="511.52" stroke-width="1.45"/>
<text x="347.8" y="515.42" font-size="10.9" text-anchor="end">60</text>
<line x1="351.78" y1="489.86" x2="355.38" y2="489.86" stroke-width="1.45"/>
<text x="347.8" y="493.76" font-size="10.9" text-anchor="end">80</text>
<line x1="351.78" y1="468.2" x2="355.38" y2="468.2" stroke-width="1.45"/>
<text x="347.8" y="472.1" font-size="10.9" text-anchor="end">100</text>
<line x1="351.78" y1="446.54" x2="355.38" y2="446.54" stroke-width="1.45"/>
<text x="347.8" y="450.44" font-size="10.9" text-anchor="end">120</text>
<line x1="367.81" y1="576.5" x2="367.81" y2="580.7" stroke-width="1.45"/>
<line x1="376.75" y1="576.5" x2="376.75" y2="580.7" stroke-width="1.45"/>
<line x1="383.68" y1="576.5" x2="383.68" y2="580.7" stroke-width="1.45"/>
<line x1="389.34" y1="576.5" x2="389.34" y2="580.7" stroke-width="1.45"/>
<line x1="394.12" y1="576.5" x2="394.12" y2="580.7" stroke-width="1.45"/>
<line x1="398.27" y1="576.5" x2="398.27" y2="580.7" stroke-width="1.45"/>
<line x1="401.93" y1="576.5" x2="401.93" y2="580.7" stroke-width="1.45"/>
<line x1="426.72" y1="576.5" x2="426.72" y2="580.7" stroke-width="1.45"/>
<line x1="439.31" y1="576.5" x2="439.31" y2="580.7" stroke-width="1.45"/>
<line x1="448.25" y1="576.5" x2="448.25" y2="580.7" stroke-width="1.45"/>
<line x1="455.18" y1="576.5" x2="455.18" y2="580.7" stroke-width="1.45"/>
<line x1="460.84" y1="576.5" x2="460.84" y2="580.7" stroke-width="1.45"/>
<line x1="465.62" y1="576.5" x2="465.62" y2="580.7" stroke-width="1.45"/>
<line x1="469.77" y1="576.5" x2="469.77" y2="580.7" stroke-width="1.45"/>
<line x1="473.43" y1="576.5" x2="473.43" y2="580.7" stroke-width="1.45"/>
<line x1="498.22" y1="576.5" x2="498.22" y2="580.7" stroke-width="1.45"/>
<line x1="510.81" y1="576.5" x2="510.81" y2="580.7" stroke-width="1.45"/>
<line x1="519.75" y1="576.5" x2="519.75" y2="580.7" stroke-width="1.45"/>
<line x1="526.68" y1="576.5" x2="526.68" y2="580.7" stroke-width="1.45"/>
<line x1="532.34" y1="576.5" x2="532.34" y2="580.7" stroke-width="1.45"/>
<line x1="537.12" y1="576.5" x2="537.12" y2="580.7" stroke-width="1.45"/>
<line x1="541.27" y1="576.5" x2="541.27" y2="580.7" stroke-width="1.45"/>
<line x1="544.93" y1="576.5" x2="544.93" y2="580.7" stroke-width="1.45"/>
<line x1="405.2" y1="576.5" x2="405.2" y2="583.5" stroke-width="1.45"/>
<text x="405.2" y="599.3" font-size="10.9" text-anchor="middle">0.1</text>
<line x1="476.7" y1="576.5" x2="476.7" y2="583.5" stroke-width="1.45"/>
<text x="476.7" y="599.3" font-size="10.9" text-anchor="middle">1</text>
<line x1="548.2" y1="576.5" x2="548.2" y2="583.5" stroke-width="1.45"/>
<text x="548.2" y="599.3" font-size="10.9" text-anchor="middle">10</text>
<text x="403.8" y="613.3" font-size="14" textLength="107.8" lengthAdjust="spacingAndGlyphs">HQGGT (mg/mL)</text>
<text transform="translate(322.7 510.7) rotate(-90)" x="0" y="0" font-size="14" text-anchor="middle" textLength="101" lengthAdjust="spacingAndGlyphs">Cell viability (%)</text>
<text class="l" transform="translate(309.6 435.5) scale(1.1 1)" x="0" y="0" font-size="19.6">f</text>
<polyline points="355.38,468.2 405.2,451.95 439.31,453.04 476.7,515.85 510.81,546.18" fill="none" stroke-width="1.3"/>
<polyline points="355.38,468.2 367.81,477.95 405.2,486.61 439.31,503.94 476.7,533.18 510.81,575.42" fill="none" stroke-width="1.3"/>
<polyline points="355.38,468.2 367.81,472.53 405.2,499.07 439.31,520.18 476.7,544.01 510.81,560.25" fill="none" stroke-width="1.3"/>
<polyline points="355.38,468.2 367.81,467.12 455.18,485.53 476.7,506.11 489.29,573.25 498.22,574.33 519.75,573.25" fill="none" stroke-width="1.3"/>
<line x1="405.2" y1="442.21" x2="405.2" y2="461.7" stroke-width="1.25"/>
<line x1="401.6" y1="442.21" x2="408.8" y2="442.21" stroke-width="1.25"/>
<line x1="401.6" y1="461.7" x2="408.8" y2="461.7" stroke-width="1.25"/>
<line x1="439.31" y1="436.79" x2="439.31" y2="469.28" stroke-width="1.25"/>
<line x1="435.71" y1="436.79" x2="442.91" y2="436.79" stroke-width="1.25"/>
<line x1="435.71" y1="469.28" x2="442.91" y2="469.28" stroke-width="1.25"/>
<line x1="476.7" y1="505.02" x2="476.7" y2="526.68" stroke-width="1.25"/>
<line x1="473.1" y1="505.02" x2="480.3" y2="505.02" stroke-width="1.25"/>
<line x1="473.1" y1="526.68" x2="480.3" y2="526.68" stroke-width="1.25"/>
<line x1="367.81" y1="468.2" x2="367.81" y2="487.69" stroke-width="1.25"/>
<line x1="364.21" y1="468.2" x2="371.41" y2="468.2" stroke-width="1.25"/>
<line x1="364.21" y1="487.69" x2="371.41" y2="487.69" stroke-width="1.25"/>
<line x1="405.2" y1="479.03" x2="405.2" y2="494.19" stroke-width="1.25"/>
<line x1="401.6" y1="479.03" x2="408.8" y2="479.03" stroke-width="1.25"/>
<line x1="401.6" y1="494.19" x2="408.8" y2="494.19" stroke-width="1.25"/>
<line x1="439.31" y1="494.19" x2="439.31" y2="513.69" stroke-width="1.25"/>
<line x1="435.71" y1="494.19" x2="442.91" y2="494.19" stroke-width="1.25"/>
<line x1="435.71" y1="513.69" x2="442.91" y2="513.69" stroke-width="1.25"/>
<line x1="476.7" y1="522.35" x2="476.7" y2="544.01" stroke-width="1.25"/>
<line x1="473.1" y1="522.35" x2="480.3" y2="522.35" stroke-width="1.25"/>
<line x1="473.1" y1="544.01" x2="480.3" y2="544.01" stroke-width="1.25"/>
<line x1="367.81" y1="467.12" x2="367.81" y2="477.95" stroke-width="1.25"/>
<line x1="364.21" y1="467.12" x2="371.41" y2="467.12" stroke-width="1.25"/>
<line x1="364.21" y1="477.95" x2="371.41" y2="477.95" stroke-width="1.25"/>
<line x1="405.2" y1="492.57" x2="405.2" y2="505.56" stroke-width="1.25"/>
<line x1="401.6" y1="492.57" x2="408.8" y2="492.57" stroke-width="1.25"/>
<line x1="401.6" y1="505.56" x2="408.8" y2="505.56" stroke-width="1.25"/>
<line x1="439.31" y1="513.69" x2="439.31" y2="526.68" stroke-width="1.25"/>
<line x1="435.71" y1="513.69" x2="442.91" y2="513.69" stroke-width="1.25"/>
<line x1="435.71" y1="526.68" x2="442.91" y2="526.68" stroke-width="1.25"/>
<line x1="476.7" y1="538.6" x2="476.7" y2="549.42" stroke-width="1.25"/>
<line x1="473.1" y1="538.6" x2="480.3" y2="538.6" stroke-width="1.25"/>
<line x1="473.1" y1="549.42" x2="480.3" y2="549.42" stroke-width="1.25"/>
<line x1="510.81" y1="554.84" x2="510.81" y2="565.67" stroke-width="1.25"/>
<line x1="507.21" y1="554.84" x2="514.41" y2="554.84" stroke-width="1.25"/>
<line x1="507.21" y1="565.67" x2="514.41" y2="565.67" stroke-width="1.25"/>
<line x1="455.18" y1="480.11" x2="455.18" y2="490.94" stroke-width="1.25"/>
<line x1="451.58" y1="480.11" x2="458.78" y2="480.11" stroke-width="1.25"/>
<line x1="451.58" y1="490.94" x2="458.78" y2="490.94" stroke-width="1.25"/>
<line x1="476.7" y1="502.86" x2="476.7" y2="509.35" stroke-width="1.25"/>
<line x1="473.1" y1="502.86" x2="480.3" y2="502.86" stroke-width="1.25"/>
<line x1="473.1" y1="509.35" x2="480.3" y2="509.35" stroke-width="1.25"/>
<rect x="351.7" y="464.52" width="7.36" height="7.36" fill="#000" stroke="none"/>
<rect x="401.52" y="448.27" width="7.36" height="7.36" fill="#000" stroke="none"/>
<rect x="435.63" y="449.36" width="7.36" height="7.36" fill="#000" stroke="none"/>
<rect x="473.02" y="512.17" width="7.36" height="7.36" fill="#000" stroke="none"/>
<rect x="507.13" y="542.5" width="7.36" height="7.36" fill="#000" stroke="none"/>
<polygon points="355.38,464.86 358.9,471.54 351.86,471.54" fill="#000" stroke-width="0.6"/>
<polygon points="367.81,474.6 371.33,481.29 364.29,481.29" fill="#000" stroke-width="0.6"/>
<polygon points="405.2,483.27 408.72,489.95 401.68,489.95" fill="#000" stroke-width="0.6"/>
<polygon points="439.31,500.6 442.83,507.28 435.79,507.28" fill="#000" stroke-width="0.6"/>
<polygon points="476.7,529.84 480.22,536.52 473.18,536.52" fill="#000" stroke-width="0.6"/>
<polygon points="510.81,572.07 514.33,578.76 507.29,578.76" fill="#000" stroke-width="0.6"/>
<polygon points="355.38,464.86 358.9,471.54 351.86,471.54" fill="none" stroke-width="1.3"/>
<polygon points="367.81,469.19 371.33,475.88 364.29,475.88" fill="none" stroke-width="1.3"/>
<polygon points="405.2,495.72 408.72,502.41 401.68,502.41" fill="none" stroke-width="1.3"/>
<polygon points="439.31,516.84 442.83,523.53 435.79,523.53" fill="none" stroke-width="1.3"/>
<polygon points="476.7,540.67 480.22,547.35 473.18,547.35" fill="none" stroke-width="1.3"/>
<polygon points="510.81,556.91 514.33,563.6 507.29,563.6" fill="none" stroke-width="1.3"/>
<polygon points="355.38,471.54 358.9,464.86 351.86,464.86" fill="#000" stroke-width="0.6"/>
<polygon points="367.81,470.46 371.33,463.77 364.29,463.77" fill="#000" stroke-width="0.6"/>
<polygon points="455.18,488.87 458.7,482.18 451.66,482.18" fill="#000" stroke-width="0.6"/>
<polygon points="476.7,509.45 480.22,502.76 473.18,502.76" fill="#000" stroke-width="0.6"/>
<polygon points="489.29,576.6 492.81,569.91 485.77,569.91" fill="#000" stroke-width="0.6"/>
<polygon points="498.22,577.68 501.74,570.99 494.7,570.99" fill="#000" stroke-width="0.6"/>
<polygon points="519.75,576.6 523.27,569.91 516.23,569.91" fill="#000" stroke-width="0.6"/>
<line x1="491.6" y1="451.7" x2="509.6" y2="451.7" stroke-width="1.3"/>
<polygon points="500.6,455.04 504.12,448.36 497.08,448.36" fill="#000" stroke-width="0.6"/>
<text x="520.9" y="456.06" font-size="11.9">RKO</text>
<line x1="491.6" y1="470.6" x2="509.6" y2="470.6" stroke-width="1.3"/>
<polygon points="500.6,467.26 504.12,473.94 497.08,473.94" fill="none" stroke-width="1.3"/>
<text x="520.9" y="474.96" font-size="11.9">SW48</text>
<line x1="491.6" y1="488.7" x2="509.6" y2="488.7" stroke-width="1.3"/>
<polygon points="500.6,485.36 504.12,492.04 497.08,492.04" fill="#000" stroke-width="0.6"/>
<text x="520.9" y="493.06" font-size="11.9">MC38</text>
<line x1="492.2" y1="515.4" x2="511.6" y2="515.4" stroke-width="1.3"/>
<rect x="498.15" y="511.55" width="7.7" height="7.7" fill="#000" stroke="none"/>
<text x="520.9" y="512.56" font-size="11.9">CCD841</text>
<text x="520.9" y="526.76" font-size="11.9">(Normal)</text>
<text x="242.3" y="120.6" font-size="13">**</text>
<text x="241.8" y="137.6" font-size="13">**</text>
<text x="253.4" y="320.3" font-size="13">**</text>
</g></svg>
</body></html>
